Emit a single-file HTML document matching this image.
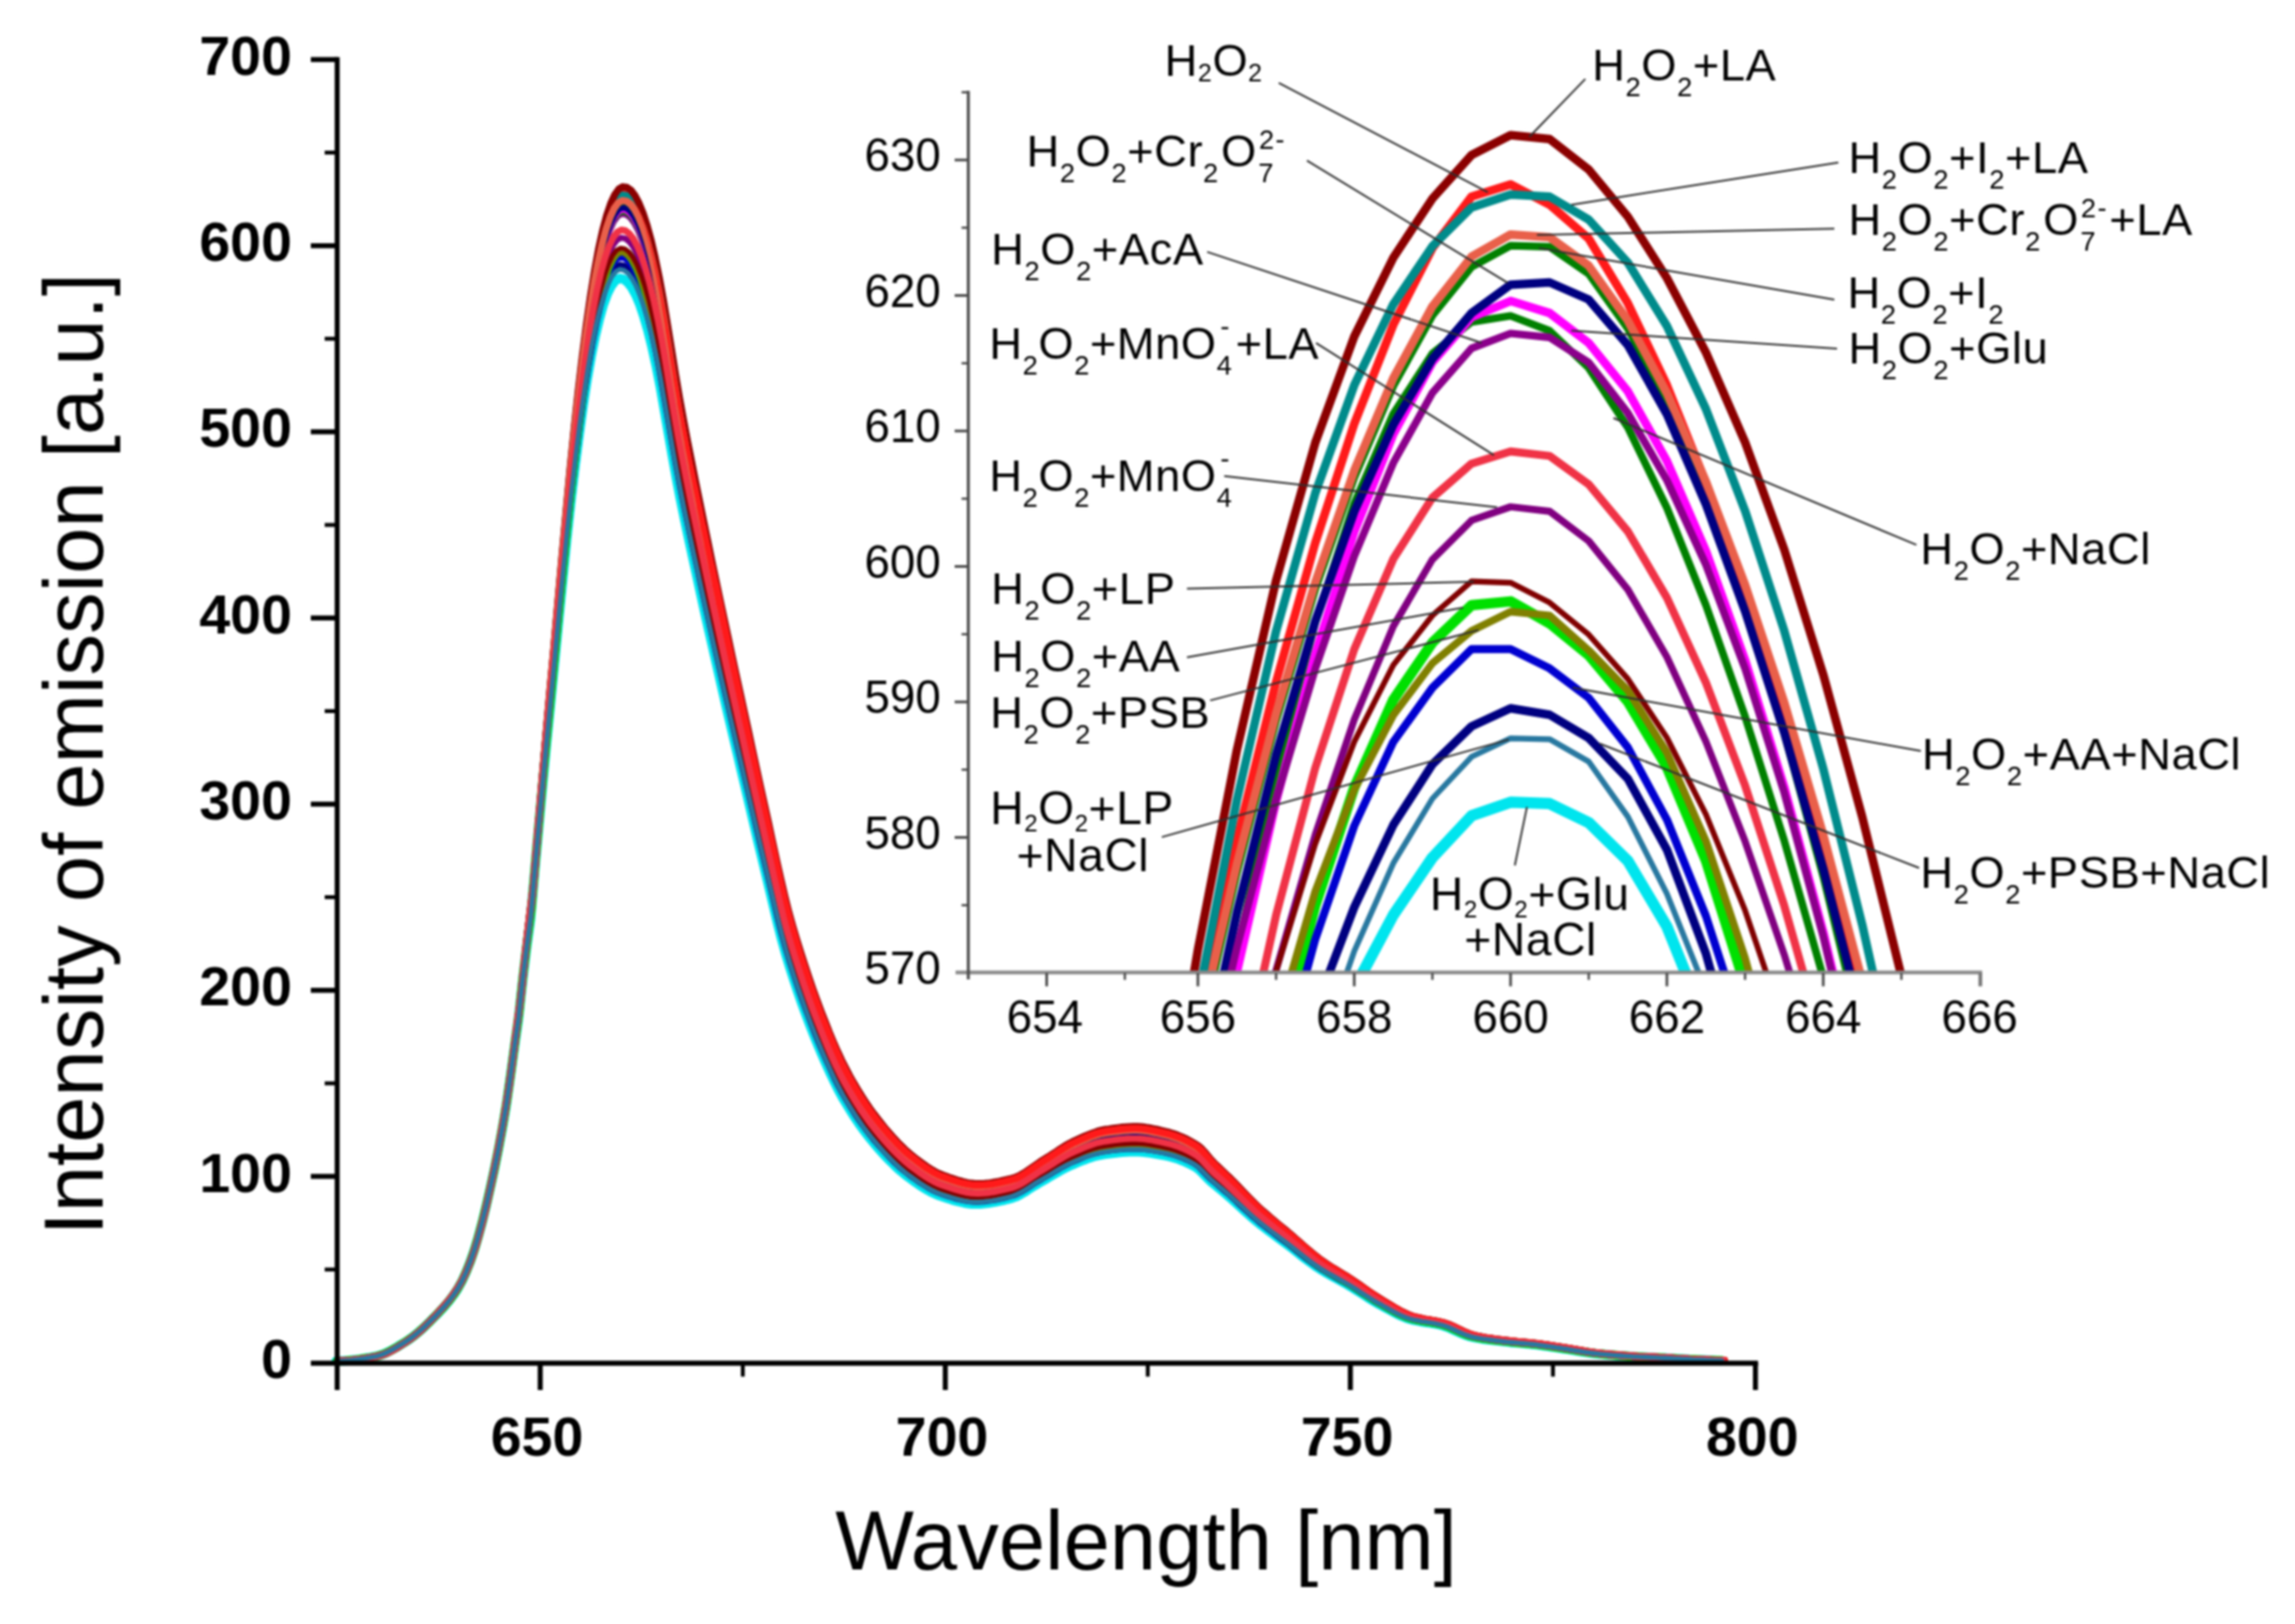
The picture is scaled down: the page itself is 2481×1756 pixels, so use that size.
<!DOCTYPE html>
<html lang="en"><head><meta charset="utf-8"><title>Emission spectra</title>
<style>html,body{margin:0;padding:0;background:#fff}body{width:2481px;height:1756px;overflow:hidden}svg{display:block;filter:blur(0.9px)}text{font-family:"Liberation Sans",Arial,Helvetica,sans-serif;fill:#000}.tk{font-weight:bold;font-size:60px;text-anchor:middle}.tky{font-weight:bold;font-size:60px;text-anchor:end}.ax{font-size:90px}.it{font-size:49.5px}.lb{font-size:49px;letter-spacing:0.6px}.lb2{font-size:50px}.ld{stroke:#303030;stroke-width:2;fill:none}</style></head><body>
<svg width="2481" height="1756" viewBox="0 0 2481 1756">
<rect width="2481" height="1756" fill="#fff"/>
<defs><clipPath id="ic"><rect x="1048" y="90" width="1100" height="962"/></clipPath></defs>
<g fill="none" stroke-width="7.6" stroke-linejoin="round" stroke-linecap="round">
<polyline stroke="#00e5ee" stroke-width="10.1" points="363.3,1471.7 367.7,1471.6 372.1,1471.4 376.5,1471.1 380.8,1470.6 385.2,1470.1 389.6,1469.5 394,1468.8 398.4,1468.1 402.7,1467.3 407.1,1466.5 411.5,1465.2 415.9,1463.5 420.3,1461.4 424.6,1459.1 429,1456.6 433.4,1453.9 437.8,1451.2 442.2,1448.4 446.5,1445.2 450.9,1441.7 455.3,1437.9 459.7,1433.9 464.1,1429.7 468.4,1425.3 472.8,1420.9 477.2,1416.3 481.6,1411.4 485.9,1406.2 490.3,1400.3 494.7,1393.8 499.1,1385.9 503.5,1376.4 507.8,1365.7 512.2,1353.2 516.6,1338.6 521,1322.6 525.4,1304.8 529.7,1285.8 534.1,1265.8 538.5,1244.4 542.9,1221.1 547.3,1195.3 551.6,1165.3 556,1133.3 560.4,1102.5 564.8,1062 569.1,1026.4 573.5,994.4 577.9,944.1 582.3,895.5 586.7,848.1 591,802.9 595.4,758.9 599.8,714 604.2,668.5 608.6,624.4 612.9,581.3 617.3,541.2 621.7,504.5 626.1,470.2 630.5,438.3 634.8,410.1 639.2,385.1 643.6,363.3 648,344.8 652.3,329.5 656.7,317.5 661.1,308.8 665.5,303.2 669.9,301 674.2,301.9 678.6,305.3 683,311 687.4,319.1 691.8,329.6 696.1,342.5 700.5,357.7 704.9,375.3 709.3,395.3 713.7,417.7 718,442.4 722.4,467.6 726.8,492.9 731.2,517.1 735.5,539.6 739.9,561.1 744.3,581.8 748.7,602 753.1,622 757.4,641.9 761.8,661.8 766.2,681.4 770.6,700.7 775,719.9 779.3,739 783.7,758 788.1,776.8 792.5,795.5 796.9,814 801.2,832.6 805.6,851.2 810,869.9 814.4,888.5 818.7,907 823.1,925.4 827.5,943.6 831.9,962.1 836.3,980.6 840.6,998.7 845,1015.9 849.4,1031.6 853.8,1046.1 858.2,1059.8 862.5,1072.7 866.9,1085.2 871.3,1097.2 875.7,1108.9 880.1,1120.1 884.4,1130.7 888.8,1141 893.2,1151 897.6,1160.7 902,1169.9 906.3,1178.6 910.7,1186.6 915.1,1194 919.5,1201.2 923.8,1208 928.2,1214.5 932.6,1220.7 937,1226.5 941.4,1232.1 945.7,1237.3 950.1,1242.4 954.5,1247.3 958.9,1252 963.3,1256.5 967.6,1260.7 972,1264.8 976.4,1268.5 980.8,1272 985.2,1275.3 989.5,1278.4 993.9,1281.4 998.3,1284.2 1002.7,1286.9 1007,1289.2 1011.4,1291.3 1015.8,1293 1020.2,1294.5 1024.6,1295.9 1028.9,1297.3 1033.3,1298.6 1037.7,1299.7 1042.1,1300.7 1046.5,1301.4 1050.8,1301.9 1055.2,1302 1059.6,1301.9 1064,1301.5 1068.4,1301 1072.7,1300.3 1077.1,1299.5 1081.5,1298.6 1085.9,1297.7 1090.2,1296.7 1094.6,1295.4 1099,1293.7 1103.4,1291.4 1107.8,1288.9 1112.1,1286.1 1116.5,1283.3 1120.9,1280.6 1125.3,1278 1129.7,1275.6 1134,1273 1138.4,1270.4 1142.8,1267.8 1147.2,1265.3 1151.6,1263 1155.9,1260.9 1160.3,1259 1164.7,1257.1 1169.1,1255.4 1173.4,1253.7 1177.8,1252.1 1182.2,1250.7 1186.6,1249.6 1191,1248.7 1195.3,1248.1 1199.7,1247.5 1204.1,1246.9 1208.5,1246.4 1212.9,1246 1217.2,1245.7 1221.6,1245.5 1226,1245.3 1230.4,1245.4 1234.8,1245.7 1239.1,1246.2 1243.5,1246.7 1247.9,1247.4 1252.3,1248.2 1256.6,1249 1261,1249.8 1265.4,1250.8 1269.8,1252.1 1274.2,1253.5 1278.5,1255.2 1282.9,1257.1 1287.3,1259.2 1291.7,1261.5 1296.1,1264.7 1300.4,1269 1304.8,1273.6 1309.2,1277.8 1313.6,1281.5 1318,1285.1 1322.3,1288.7 1326.7,1292.4 1331.1,1296.3 1335.5,1300.3 1339.9,1304.3 1344.2,1308.3 1348.6,1312.3 1353,1316.1 1357.4,1319.8 1361.7,1323.4 1366.1,1326.8 1370.5,1330.1 1374.9,1333.4 1379.3,1336.7 1383.6,1339.9 1388,1343.1 1392.4,1346.4 1396.8,1349.8 1401.2,1353.3 1405.5,1356.7 1409.9,1360.2 1414.3,1363.5 1418.7,1366.7 1423.1,1369.8 1427.4,1372.6 1431.8,1375.3 1436.2,1377.8 1440.6,1380.3 1444.9,1382.7 1449.3,1385.1 1453.7,1387.5 1458.1,1390.1 1462.5,1392.7 1466.8,1395.5 1471.2,1398.3 1475.6,1401.1 1480,1403.9 1484.4,1406.6 1488.7,1409.2 1493.1,1411.6 1497.5,1414 1501.9,1416.4 1506.3,1418.8 1510.6,1421.1 1515,1423.1 1519.4,1424.9 1523.8,1426.4 1528.1,1427.5 1532.5,1428.4 1536.9,1429.2 1541.3,1429.9 1545.7,1430.5 1550,1431.3 1554.4,1432.1 1558.8,1433.2 1563.2,1434.6 1567.6,1436.4 1571.9,1438.4 1576.3,1440.4 1580.7,1442.3 1585.1,1444 1589.5,1445.4 1593.8,1446.3 1598.2,1447.1 1602.6,1447.9 1607,1448.5 1611.3,1449.1 1615.7,1449.6 1620.1,1450.1 1624.5,1450.6 1628.9,1451.1 1633.2,1451.6 1637.6,1452 1642,1452.3 1646.4,1452.7 1650.8,1453.1 1655.1,1453.6 1659.5,1454 1663.9,1454.6 1668.3,1455.2 1672.7,1455.8 1677,1456.4 1681.4,1457 1685.8,1457.7 1690.2,1458.4 1694.5,1459 1698.9,1459.7 1703.3,1460.5 1707.7,1461.2 1712.1,1461.9 1716.4,1462.6 1720.8,1463.2 1725.2,1463.7 1729.6,1464.1 1734,1464.6 1738.3,1464.9 1742.7,1465.3 1747.1,1465.7 1751.5,1466 1755.9,1466.3 1760.2,1466.6 1764.6,1466.8 1769,1467.1 1773.4,1467.3 1777.8,1467.5 1782.1,1467.7 1786.5,1467.8 1790.9,1468 1795.3,1468.2 1799.6,1468.4 1804,1468.7 1808.4,1468.9 1812.8,1469.1 1817.2,1469.4 1821.5,1469.6 1825.9,1469.9 1830.3,1470.1 1834.7,1470.3 1839.1,1470.4 1843.4,1470.6 1847.8,1470.8 1852.2,1470.9 1856.6,1471 1861,1471.2"/>
<polyline stroke="#000080" stroke-width="7.6" points="363.8,1471.7 368.2,1471.6 372.6,1471.4 377,1471 381.3,1470.6 385.7,1470.1 390.1,1469.5 394.5,1468.8 398.9,1468.1 403.2,1467.3 407.6,1466.4 412,1465.1 416.4,1463.4 420.8,1461.3 425.1,1458.9 429.5,1456.4 433.9,1453.7 438.3,1451 442.6,1448.1 447,1444.8 451.4,1441.3 455.8,1437.5 460.2,1433.4 464.5,1429.2 468.9,1424.7 473.3,1420.2 477.7,1415.6 482.1,1410.7 486.4,1405.4 490.8,1399.5 495.2,1392.8 499.6,1384.9 504,1375.3 508.3,1364.4 512.7,1351.8 517.1,1337 521.5,1320.7 525.8,1302.7 530.2,1283.5 534.6,1263.3 539,1241.7 543.4,1218 547.7,1191.9 552.1,1161.6 556.5,1129.2 560.9,1098.1 565.3,1057.1 569.6,1021 574,988.6 578.4,937.8 582.8,888.6 587.2,840.6 591.5,794.8 595.9,750.3 600.3,704.9 604.7,658.8 609,614.2 613.4,570.6 617.8,530 622.2,492.9 626.6,458.1 630.9,425.9 635.3,397.3 639.7,372 644.1,350 648.5,331.2 652.8,315.8 657.2,303.6 661.6,294.8 666,289.2 670.4,286.9 674.7,287.8 679.1,291.1 683.5,296.8 687.9,304.9 692.2,315.5 696.6,328.4 701,343.8 705.4,361.6 709.8,381.8 714.1,404.3 718.5,429.3 722.9,454.8 727.3,480.3 731.7,504.8 736,527.5 740.4,549.2 744.8,570.1 749.2,590.6 753.6,610.7 757.9,630.9 762.3,651 766.7,670.8 771.1,690.3 775.4,709.7 779.8,729 784.2,748.2 788.6,767.2 793,786.1 797.3,804.9 801.7,823.7 806.1,842.5 810.5,861.4 814.9,880.2 819.2,899 823.6,917.6 828,936.1 832.4,954.7 836.8,973.5 841.1,991.9 845.5,1009.2 849.9,1025.2 854.3,1039.9 858.7,1053.6 863,1066.7 867.4,1079.4 871.8,1091.6 876.2,1103.4 880.5,1114.7 884.9,1125.5 889.3,1135.9 893.7,1146 898.1,1155.8 902.4,1165.2 906.8,1174 911.2,1182.1 915.6,1189.6 920,1196.9 924.3,1203.8 928.7,1210.3 933.1,1216.6 937.5,1222.5 941.9,1228.2 946.2,1233.5 950.6,1238.6 955,1243.5 959.4,1248.3 963.7,1252.8 968.1,1257.2 972.5,1261.3 976.9,1265.1 981.3,1268.6 985.6,1271.9 990,1275 994.4,1278.1 998.8,1280.9 1003.2,1283.6 1007.5,1286 1011.9,1288.1 1016.3,1289.8 1020.7,1291.3 1025.1,1292.8 1029.4,1294.2 1033.8,1295.5 1038.2,1296.6 1042.6,1297.6 1046.9,1298.3 1051.3,1298.7 1055.7,1298.9 1060.1,1298.7 1064.5,1298.4 1068.8,1297.8 1073.2,1297.2 1077.6,1296.4 1082,1295.5 1086.4,1294.5 1090.7,1293.4 1095.1,1292.2 1099.5,1290.4 1103.9,1288.2 1108.3,1285.6 1112.6,1282.8 1117,1279.9 1121.4,1277.1 1125.8,1274.6 1130.1,1272 1134.5,1269.4 1138.9,1266.8 1143.3,1264.2 1147.7,1261.6 1152,1259.3 1156.4,1257.1 1160.8,1255.2 1165.2,1253.4 1169.6,1251.5 1173.9,1249.8 1178.3,1248.2 1182.7,1246.8 1187.1,1245.7 1191.5,1244.8 1195.8,1244.2 1200.2,1243.6 1204.6,1243 1209,1242.5 1213.3,1242.1 1217.7,1241.8 1222.1,1241.6 1226.5,1241.5 1230.9,1241.6 1235.2,1241.9 1239.6,1242.4 1244,1243 1248.4,1243.7 1252.8,1244.5 1257.1,1245.3 1261.5,1246.2 1265.9,1247.3 1270.3,1248.6 1274.7,1250.1 1279,1251.8 1283.4,1253.7 1287.8,1255.9 1292.2,1258.2 1296.6,1261.6 1300.9,1266 1305.3,1270.7 1309.7,1274.9 1314.1,1278.7 1318.4,1282.3 1322.8,1286 1327.2,1289.8 1331.6,1293.8 1336,1297.8 1340.3,1301.9 1344.7,1306 1349.1,1310 1353.5,1314 1357.9,1317.7 1362.2,1321.4 1366.6,1324.8 1371,1328.2 1375.4,1331.6 1379.8,1334.9 1384.1,1338.2 1388.5,1341.5 1392.9,1344.8 1397.3,1348.3 1401.6,1351.8 1406,1355.3 1410.4,1358.8 1414.8,1362.2 1419.2,1365.4 1423.5,1368.5 1427.9,1371.4 1432.3,1374.1 1436.7,1376.7 1441.1,1379.2 1445.4,1381.6 1449.8,1384.1 1454.2,1386.5 1458.6,1389.1 1463,1391.8 1467.3,1394.6 1471.7,1397.5 1476.1,1400.3 1480.5,1403.2 1484.8,1405.9 1489.2,1408.5 1493.6,1410.9 1498,1413.4 1502.4,1415.9 1506.7,1418.3 1511.1,1420.5 1515.5,1422.6 1519.9,1424.4 1524.3,1425.9 1528.6,1427 1533,1428 1537.4,1428.7 1541.8,1429.4 1546.2,1430.1 1550.5,1430.9 1554.9,1431.8 1559.3,1432.8 1563.7,1434.3 1568,1436.1 1572.4,1438 1576.8,1440.1 1581.2,1442 1585.6,1443.8 1589.9,1445.1 1594.3,1446.1 1598.7,1446.9 1603.1,1447.6 1607.5,1448.3 1611.8,1448.9 1616.2,1449.4 1620.6,1449.9 1625,1450.4 1629.4,1450.9 1633.7,1451.4 1638.1,1451.8 1642.5,1452.2 1646.9,1452.5 1651.2,1453 1655.6,1453.4 1660,1453.9 1664.4,1454.4 1668.8,1455 1673.1,1455.6 1677.5,1456.3 1681.9,1456.9 1686.3,1457.6 1690.7,1458.2 1695,1458.9 1699.4,1459.6 1703.8,1460.4 1708.2,1461.1 1712.6,1461.8 1716.9,1462.5 1721.3,1463.1 1725.7,1463.6 1730.1,1464.1 1734.5,1464.5 1738.8,1464.9 1743.2,1465.3 1747.6,1465.6 1752,1465.9 1756.3,1466.2 1760.7,1466.5 1765.1,1466.8 1769.5,1467 1773.9,1467.2 1778.2,1467.4 1782.6,1467.6 1787,1467.8 1791.4,1468 1795.8,1468.2 1800.1,1468.4 1804.5,1468.6 1808.9,1468.9 1813.3,1469.1 1817.7,1469.4 1822,1469.6 1826.4,1469.8 1830.8,1470.1 1835.2,1470.2 1839.5,1470.4 1843.9,1470.6 1848.3,1470.7 1852.7,1470.9 1857.1,1471 1861.4,1471.1"/>
<polyline stroke="#0000d0" stroke-width="7.2" points="364.1,1471.7 368.5,1471.6 372.9,1471.4 377.3,1471 381.7,1470.6 386,1470 390.4,1469.4 394.8,1468.8 399.2,1468 403.6,1467.2 407.9,1466.3 412.3,1465 416.7,1463.3 421.1,1461.2 425.4,1458.8 429.8,1456.3 434.2,1453.5 438.6,1450.8 443,1447.9 447.3,1444.6 451.7,1441 456.1,1437.2 460.5,1433.1 464.9,1428.8 469.2,1424.4 473.6,1419.8 478,1415.1 482.4,1410.2 486.8,1404.8 491.1,1398.9 495.5,1392.2 499.9,1384.2 504.3,1374.5 508.6,1363.6 513,1350.8 517.4,1335.9 521.8,1319.6 526.2,1301.4 530.5,1282.1 534.9,1261.7 539.3,1239.9 543.7,1216.1 548.1,1189.8 552.4,1159.2 556.8,1126.6 561.2,1095.2 565.6,1053.9 570,1017.6 574.3,984.9 578.7,933.7 583.1,884.1 587.5,835.8 591.8,789.6 596.2,744.8 600.6,699 605,652.6 609.4,607.7 613.7,563.7 618.1,522.8 622.5,485.4 626.9,450.4 631.3,417.9 635.6,389.1 640,363.6 644.4,341.4 648.8,322.5 653.2,307 657.5,294.7 661.9,285.8 666.3,280.1 670.7,277.8 675,278.7 679.4,282 683.8,287.7 688.2,295.8 692.6,306.4 696.9,319.4 701.3,334.9 705.7,352.7 710.1,373 714.5,395.8 718.8,420.9 723.2,446.5 727.6,472.2 732,496.8 736.4,519.7 740.7,541.6 745.1,562.6 749.5,583.2 753.9,603.5 758.2,623.8 762.6,644 767,663.9 771.4,683.6 775.8,703.2 780.1,722.6 784.5,741.9 788.9,761.1 793.3,780.1 797.7,799.1 802,818 806.4,837 810.8,856 815.2,874.9 819.6,893.9 823.9,912.6 828.3,931.2 832.7,950 837.1,968.9 841.5,987.4 845.8,1005 850.2,1021 854.6,1035.8 859,1049.7 863.3,1062.9 867.7,1075.6 872.1,1088 876.5,1099.8 880.9,1111.2 885.2,1122.1 889.6,1132.6 894,1142.8 898.4,1152.7 902.8,1162.2 907.1,1171 911.5,1179.2 915.9,1186.8 920.3,1194.1 924.7,1201 929,1207.7 933.4,1214 937.8,1220 942.2,1225.6 946.5,1231 950.9,1236.1 955.3,1241.1 959.7,1245.9 964.1,1250.5 968.4,1254.9 972.8,1259 977.2,1262.8 981.6,1266.4 986,1269.7 990.3,1272.9 994.7,1275.9 999.1,1278.8 1003.5,1281.5 1007.9,1283.9 1012.2,1286 1016.6,1287.8 1021,1289.2 1025.4,1290.7 1029.7,1292.1 1034.1,1293.4 1038.5,1294.6 1042.9,1295.6 1047.3,1296.3 1051.6,1296.7 1056,1296.9 1060.4,1296.7 1064.8,1296.3 1069.2,1295.8 1073.5,1295.1 1077.9,1294.3 1082.3,1293.4 1086.7,1292.4 1091.1,1291.4 1095.4,1290.2 1099.8,1288.3 1104.2,1286 1108.6,1283.4 1112.9,1280.6 1117.3,1277.7 1121.7,1274.9 1126.1,1272.3 1130.5,1269.8 1134.8,1267.1 1139.2,1264.5 1143.6,1261.8 1148,1259.3 1152.4,1256.9 1156.7,1254.7 1161.1,1252.8 1165.5,1250.9 1169.9,1249.1 1174.3,1247.4 1178.6,1245.8 1183,1244.4 1187.4,1243.2 1191.8,1242.3 1196.1,1241.7 1200.5,1241.1 1204.9,1240.5 1209.3,1240 1213.7,1239.6 1218,1239.3 1222.4,1239.1 1226.8,1239 1231.2,1239.1 1235.6,1239.4 1239.9,1239.9 1244.3,1240.6 1248.7,1241.3 1253.1,1242.1 1257.5,1243 1261.8,1243.9 1266.2,1245 1270.6,1246.3 1275,1247.8 1279.4,1249.6 1283.7,1251.5 1288.1,1253.7 1292.5,1256.2 1296.9,1259.5 1301.2,1264 1305.6,1268.7 1310,1273 1314.4,1276.8 1318.8,1280.6 1323.1,1284.3 1327.5,1288.1 1331.9,1292.2 1336.3,1296.2 1340.7,1300.4 1345,1304.5 1349.4,1308.6 1353.8,1312.6 1358.2,1316.4 1362.6,1320.1 1366.9,1323.6 1371.3,1327 1375.7,1330.4 1380.1,1333.7 1384.4,1337 1388.8,1340.4 1393.2,1343.8 1397.6,1347.3 1402,1350.8 1406.3,1354.3 1410.7,1357.9 1415.1,1361.3 1419.5,1364.6 1423.9,1367.7 1428.2,1370.7 1432.6,1373.4 1437,1376 1441.4,1378.5 1445.8,1380.9 1450.1,1383.4 1454.5,1385.9 1458.9,1388.5 1463.3,1391.2 1467.6,1394.1 1472,1397 1476.4,1399.8 1480.8,1402.7 1485.2,1405.4 1489.5,1408 1493.9,1410.5 1498.3,1413 1502.7,1415.5 1507.1,1417.9 1511.4,1420.2 1515.8,1422.3 1520.2,1424.1 1524.6,1425.6 1529,1426.8 1533.3,1427.7 1537.7,1428.5 1542.1,1429.2 1546.5,1429.9 1550.8,1430.6 1555.2,1431.5 1559.6,1432.6 1564,1434 1568.4,1435.8 1572.7,1437.8 1577.1,1439.9 1581.5,1441.8 1585.9,1443.6 1590.3,1445 1594.6,1445.9 1599,1446.7 1603.4,1447.5 1607.8,1448.1 1612.2,1448.7 1616.5,1449.3 1620.9,1449.8 1625.3,1450.3 1629.7,1450.8 1634,1451.2 1638.4,1451.7 1642.8,1452 1647.2,1452.4 1651.6,1452.8 1655.9,1453.3 1660.3,1453.8 1664.7,1454.3 1669.1,1454.9 1673.5,1455.5 1677.8,1456.2 1682.2,1456.8 1686.6,1457.5 1691,1458.2 1695.4,1458.8 1699.7,1459.5 1704.1,1460.3 1708.5,1461.1 1712.9,1461.8 1717.3,1462.5 1721.6,1463.1 1726,1463.6 1730.4,1464 1734.8,1464.4 1739.1,1464.8 1743.5,1465.2 1747.9,1465.6 1752.3,1465.9 1756.7,1466.2 1761,1466.5 1765.4,1466.7 1769.8,1467 1774.2,1467.2 1778.6,1467.4 1782.9,1467.6 1787.3,1467.8 1791.7,1468 1796.1,1468.2 1800.5,1468.4 1804.8,1468.6 1809.2,1468.9 1813.6,1469.1 1818,1469.4 1822.3,1469.6 1826.7,1469.8 1831.1,1470 1835.5,1470.2 1839.9,1470.4 1844.2,1470.6 1848.6,1470.7 1853,1470.9 1857.4,1471 1861.8,1471.1"/>
<polyline stroke="#00e000" stroke-width="9.3" points="364.4,1471.7 368.7,1471.6 373.1,1471.4 377.5,1471 381.9,1470.6 386.3,1470 390.6,1469.4 395,1468.7 399.4,1468 403.8,1467.2 408.2,1466.3 412.5,1465 416.9,1463.2 421.3,1461.1 425.7,1458.7 430.1,1456.2 434.4,1453.4 438.8,1450.7 443.2,1447.7 447.6,1444.5 452,1440.9 456.3,1437 460.7,1432.9 465.1,1428.6 469.5,1424.1 473.8,1419.5 478.2,1414.8 482.6,1409.9 487,1404.5 491.4,1398.5 495.7,1391.7 500.1,1383.7 504.5,1374 508.9,1363 513.3,1350.1 517.6,1335.2 522,1318.7 526.4,1300.5 530.8,1281 535.2,1260.6 539.5,1238.6 543.9,1214.7 548.3,1188.2 552.7,1157.5 557,1124.7 561.4,1093.1 565.8,1051.6 570.2,1015 574.6,982.2 578.9,930.7 583.3,880.8 587.7,832.2 592.1,785.8 596.5,740.7 600.8,694.7 605.2,648.1 609.6,602.9 614,558.6 618.4,517.5 622.7,479.9 627.1,444.7 631.5,412 635.9,383.1 640.2,357.4 644.6,335.1 649,316.1 653.4,300.5 657.8,288.2 662.1,279.2 666.5,273.5 670.9,271.2 675.3,272 679.7,275.3 684,281 688.4,289.2 692.8,299.8 697.2,312.8 701.6,328.3 705.9,346.3 710.3,366.7 714.7,389.5 719.1,414.7 723.4,440.4 727.8,466.3 732.2,491 736.6,514 741,536 745.3,557.1 749.7,577.8 754.1,598.2 758.5,618.6 762.9,638.9 767.2,658.9 771.6,678.7 776,698.4 780.4,717.9 784.8,737.3 789.1,756.6 793.5,775.7 797.9,794.8 802.3,813.8 806.6,832.9 811,852 815.4,871.1 819.8,890.1 824.2,908.9 828.5,927.6 832.9,946.6 837.3,965.6 841.7,984.2 846.1,1001.8 850.4,1018 854.8,1032.9 859.2,1046.8 863.6,1060.1 868,1072.9 872.3,1085.3 876.7,1097.2 881.1,1108.7 885.5,1119.7 889.9,1130.2 894.2,1140.5 898.6,1150.4 903,1159.9 907.4,1168.8 911.7,1177 916.1,1184.7 920.5,1192 924.9,1199 929.3,1205.7 933.6,1212.1 938,1218.1 942.4,1223.8 946.8,1229.1 951.2,1234.3 955.5,1239.3 959.9,1244.2 964.3,1248.8 968.7,1253.2 973.1,1257.3 977.4,1261.2 981.8,1264.8 986.2,1268.1 990.6,1271.3 994.9,1274.4 999.3,1277.3 1003.7,1280 1008.1,1282.4 1012.5,1284.5 1016.8,1286.3 1021.2,1287.7 1025.6,1289.2 1030,1290.6 1034.4,1291.9 1038.7,1293.1 1043.1,1294.1 1047.5,1294.8 1051.9,1295.2 1056.3,1295.4 1060.6,1295.2 1065,1294.8 1069.4,1294.3 1073.8,1293.6 1078.1,1292.8 1082.5,1291.9 1086.9,1290.9 1091.3,1289.9 1095.7,1288.6 1100,1286.8 1104.4,1284.5 1108.8,1281.9 1113.2,1279 1117.6,1276.1 1121.9,1273.3 1126.3,1270.7 1130.7,1268.1 1135.1,1265.5 1139.5,1262.8 1143.8,1260.1 1148.2,1257.5 1152.6,1255.1 1157,1252.9 1161.3,1251 1165.7,1249.1 1170.1,1247.3 1174.5,1245.5 1178.9,1243.9 1183.2,1242.5 1187.6,1241.4 1192,1240.5 1196.4,1239.8 1200.8,1239.2 1205.1,1238.6 1209.5,1238.1 1213.9,1237.7 1218.3,1237.4 1222.7,1237.2 1227,1237.2 1231.4,1237.3 1235.8,1237.6 1240.2,1238.2 1244.5,1238.8 1248.9,1239.6 1253.3,1240.4 1257.7,1241.3 1262.1,1242.2 1266.4,1243.3 1270.8,1244.7 1275.2,1246.2 1279.6,1248 1284,1250 1288.3,1252.2 1292.7,1254.6 1297.1,1258 1301.5,1262.5 1305.9,1267.3 1310.2,1271.6 1314.6,1275.5 1319,1279.3 1323.4,1283 1327.8,1286.9 1332.1,1291 1336.5,1295.1 1340.9,1299.3 1345.3,1303.4 1349.6,1307.6 1354,1311.6 1358.4,1315.4 1362.8,1319.1 1367.2,1322.7 1371.5,1326.1 1375.9,1329.5 1380.3,1332.9 1384.7,1336.2 1389.1,1339.6 1393.4,1343 1397.8,1346.5 1402.2,1350.1 1406.6,1353.7 1411,1357.2 1415.3,1360.7 1419.7,1364 1424.1,1367.1 1428.5,1370.1 1432.8,1372.8 1437.2,1375.4 1441.6,1378 1446,1380.4 1450.4,1382.9 1454.7,1385.4 1459.1,1388.1 1463.5,1390.8 1467.9,1393.7 1472.3,1396.6 1476.6,1399.5 1481,1402.3 1485.4,1405.1 1489.8,1407.7 1494.2,1410.2 1498.5,1412.7 1502.9,1415.2 1507.3,1417.6 1511.7,1419.9 1516,1422 1520.4,1423.9 1524.8,1425.4 1529.2,1426.5 1533.6,1427.5 1537.9,1428.3 1542.3,1429 1546.7,1429.7 1551.1,1430.4 1555.5,1431.3 1559.8,1432.4 1564.2,1433.9 1568.6,1435.7 1573,1437.7 1577.4,1439.7 1581.7,1441.7 1586.1,1443.5 1590.5,1444.8 1594.9,1445.8 1599.2,1446.6 1603.6,1447.4 1608,1448 1612.4,1448.6 1616.8,1449.2 1621.1,1449.7 1625.5,1450.2 1629.9,1450.7 1634.3,1451.2 1638.7,1451.6 1643,1452 1647.4,1452.4 1651.8,1452.8 1656.2,1453.2 1660.6,1453.7 1664.9,1454.2 1669.3,1454.8 1673.7,1455.5 1678.1,1456.1 1682.4,1456.8 1686.8,1457.4 1691.2,1458.1 1695.6,1458.8 1700,1459.5 1704.3,1460.3 1708.7,1461 1713.1,1461.7 1717.5,1462.4 1721.9,1463 1726.2,1463.5 1730.6,1464 1735,1464.4 1739.4,1464.8 1743.8,1465.2 1748.1,1465.5 1752.5,1465.9 1756.9,1466.2 1761.3,1466.5 1765.7,1466.7 1770,1467 1774.4,1467.2 1778.8,1467.4 1783.2,1467.6 1787.5,1467.8 1791.9,1467.9 1796.3,1468.1 1800.7,1468.4 1805.1,1468.6 1809.4,1468.8 1813.8,1469.1 1818.2,1469.3 1822.6,1469.6 1827,1469.8 1831.3,1470 1835.7,1470.2 1840.1,1470.4 1844.5,1470.6 1848.9,1470.7 1853.2,1470.9 1857.6,1471 1862,1471.1"/>
<polyline stroke="#808000" stroke-width="6.8" points="364.3,1471.7 368.7,1471.6 373.1,1471.4 377.5,1471 381.8,1470.6 386.2,1470 390.6,1469.4 395,1468.7 399.4,1468 403.7,1467.2 408.1,1466.3 412.5,1465 416.9,1463.2 421.3,1461.1 425.6,1458.8 430,1456.2 434.4,1453.5 438.8,1450.7 443.2,1447.8 447.5,1444.5 451.9,1440.9 456.3,1437 460.7,1432.9 465,1428.6 469.4,1424.2 473.8,1419.6 478.2,1414.9 482.6,1409.9 486.9,1404.5 491.3,1398.5 495.7,1391.8 500.1,1383.8 504.5,1374.1 508.8,1363.1 513.2,1350.3 517.6,1335.3 522,1318.9 526.4,1300.7 530.7,1281.2 535.1,1260.8 539.5,1238.8 543.9,1214.9 548.2,1188.5 552.6,1157.8 557,1125 561.4,1093.5 565.8,1052 570.1,1015.5 574.5,982.7 578.9,931.2 583.3,881.4 587.7,832.9 592,786.5 596.4,741.5 600.8,695.5 605.2,648.9 609.6,603.7 613.9,559.5 618.3,518.5 622.7,480.9 627.1,445.7 631.4,413.1 635.8,384.2 640.2,358.6 644.6,336.3 649,317.3 653.3,301.7 657.7,289.4 662.1,280.4 666.5,274.7 670.9,272.4 675.2,273.2 679.6,276.5 684,282.2 688.4,290.4 692.8,301 697.1,314 701.5,329.5 705.9,347.4 710.3,367.8 714.6,390.6 719,415.9 723.4,441.5 727.8,467.3 732.2,492.1 736.5,515 740.9,537 745.3,558.1 749.7,578.8 754.1,599.2 758.4,619.5 762.8,639.8 767.2,659.9 771.6,679.6 776,699.3 780.3,718.8 784.7,738.2 789.1,757.4 793.5,776.5 797.8,795.5 802.2,814.5 806.6,833.6 811,852.7 815.4,871.8 819.7,890.8 824.1,909.6 828.5,928.3 832.9,947.2 837.3,966.2 841.6,984.8 846,1002.4 850.4,1018.5 854.8,1033.4 859.2,1047.3 863.5,1060.6 867.9,1073.4 872.3,1085.8 876.7,1097.7 881.1,1109.2 885.4,1120.1 889.8,1130.6 894.2,1140.9 898.6,1150.9 902.9,1160.3 907.3,1169.2 911.7,1177.4 916.1,1185.1 920.5,1192.4 924.8,1199.4 929.2,1206.1 933.6,1212.4 938,1218.4 942.4,1224.1 946.7,1229.5 951.1,1234.7 955.5,1239.7 959.9,1244.5 964.3,1249.1 968.6,1253.5 973,1257.6 977.4,1261.5 981.8,1265.1 986.1,1268.4 990.5,1271.6 994.9,1274.7 999.3,1277.6 1003.7,1280.3 1008,1282.7 1012.4,1284.8 1016.8,1286.5 1021.2,1288 1025.6,1289.5 1029.9,1290.9 1034.3,1292.2 1038.7,1293.4 1043.1,1294.3 1047.5,1295.1 1051.8,1295.5 1056.2,1295.6 1060.6,1295.5 1065,1295.1 1069.3,1294.6 1073.7,1293.9 1078.1,1293.1 1082.5,1292.2 1086.9,1291.2 1091.2,1290.2 1095.6,1288.9 1100,1287.1 1104.4,1284.8 1108.8,1282.1 1113.1,1279.3 1117.5,1276.4 1121.9,1273.6 1126.3,1271 1130.7,1268.4 1135,1265.8 1139.4,1263.1 1143.8,1260.4 1148.2,1257.8 1152.5,1255.4 1156.9,1253.3 1161.3,1251.3 1165.7,1249.5 1170.1,1247.6 1174.4,1245.9 1178.8,1244.3 1183.2,1242.9 1187.6,1241.7 1192,1240.8 1196.3,1240.2 1200.7,1239.6 1205.1,1239 1209.5,1238.5 1213.9,1238.1 1218.2,1237.7 1222.6,1237.6 1227,1237.5 1231.4,1237.6 1235.7,1238 1240.1,1238.5 1244.5,1239.1 1248.9,1239.9 1253.3,1240.7 1257.6,1241.6 1262,1242.5 1266.4,1243.6 1270.8,1245 1275.2,1246.5 1279.5,1248.3 1283.9,1250.3 1288.3,1252.5 1292.7,1254.9 1297.1,1258.3 1301.4,1262.8 1305.8,1267.6 1310.2,1271.9 1314.6,1275.8 1319,1279.5 1323.3,1283.3 1327.7,1287.1 1332.1,1291.2 1336.5,1295.3 1340.8,1299.5 1345.2,1303.6 1349.6,1307.7 1354,1311.7 1358.4,1315.6 1362.7,1319.3 1367.1,1322.8 1371.5,1326.3 1375.9,1329.7 1380.3,1333 1384.6,1336.4 1389,1339.7 1393.4,1343.2 1397.8,1346.7 1402.2,1350.2 1406.5,1353.8 1410.9,1357.3 1415.3,1360.8 1419.7,1364.1 1424,1367.3 1428.4,1370.2 1432.8,1372.9 1437.2,1375.5 1441.6,1378.1 1445.9,1380.5 1450.3,1383 1454.7,1385.5 1459.1,1388.1 1463.5,1390.9 1467.8,1393.7 1472.2,1396.6 1476.6,1399.5 1481,1402.4 1485.4,1405.2 1489.7,1407.8 1494.1,1410.3 1498.5,1412.7 1502.9,1415.2 1507.2,1417.7 1511.6,1420 1516,1422.1 1520.4,1423.9 1524.8,1425.4 1529.1,1426.6 1533.5,1427.5 1537.9,1428.3 1542.3,1429 1546.7,1429.7 1551,1430.5 1555.4,1431.4 1559.8,1432.4 1564.2,1433.9 1568.6,1435.7 1572.9,1437.7 1577.3,1439.8 1581.7,1441.7 1586.1,1443.5 1590.4,1444.9 1594.8,1445.8 1599.2,1446.7 1603.6,1447.4 1608,1448 1612.3,1448.6 1616.7,1449.2 1621.1,1449.7 1625.5,1450.2 1629.9,1450.7 1634.2,1451.2 1638.6,1451.6 1643,1452 1647.4,1452.4 1651.8,1452.8 1656.1,1453.2 1660.5,1453.7 1664.9,1454.3 1669.3,1454.9 1673.6,1455.5 1678,1456.1 1682.4,1456.8 1686.8,1457.4 1691.2,1458.1 1695.5,1458.8 1699.9,1459.5 1704.3,1460.3 1708.7,1461 1713.1,1461.8 1717.4,1462.4 1721.8,1463 1726.2,1463.5 1730.6,1464 1735,1464.4 1739.3,1464.8 1743.7,1465.2 1748.1,1465.5 1752.5,1465.9 1756.9,1466.2 1761.2,1466.5 1765.6,1466.7 1770,1467 1774.4,1467.2 1778.7,1467.4 1783.1,1467.6 1787.5,1467.8 1791.9,1468 1796.3,1468.1 1800.6,1468.4 1805,1468.6 1809.4,1468.8 1813.8,1469.1 1818.2,1469.3 1822.5,1469.6 1826.9,1469.8 1831.3,1470 1835.7,1470.2 1840.1,1470.4 1844.4,1470.6 1848.8,1470.7 1853.2,1470.9 1857.6,1471 1861.9,1471.1"/>
<polyline stroke="#800080" stroke-width="6.4" points="364.9,1471.7 369.2,1471.6 373.6,1471.3 378,1471 382.4,1470.5 386.8,1470 391.1,1469.4 395.5,1468.7 399.9,1467.9 404.3,1467.1 408.7,1466.2 413,1464.9 417.4,1463.1 421.8,1461 426.2,1458.6 430.5,1456 434.9,1453.2 439.3,1450.4 443.7,1447.4 448.1,1444.1 452.4,1440.5 456.8,1436.6 461.2,1432.4 465.6,1428 470,1423.5 474.3,1418.9 478.7,1414.1 483.1,1409.1 487.5,1403.7 491.9,1397.6 496.2,1390.8 500.6,1382.6 505,1372.8 509.4,1361.7 513.7,1348.7 518.1,1333.5 522.5,1316.9 526.9,1298.5 531.3,1278.7 535.6,1258.1 540,1235.8 544.4,1211.6 548.8,1184.9 553.2,1153.8 557.5,1120.6 561.9,1088.6 566.3,1046.6 570.7,1009.7 575.1,976.5 579.4,924.3 583.8,873.9 588.2,824.7 592.6,777.8 596.9,732.1 601.3,685.6 605.7,638.4 610.1,592.6 614.5,547.9 618.8,506.3 623.2,468.3 627.6,432.6 632,399.6 636.4,370.3 640.7,344.4 645.1,321.8 649.5,302.6 653.9,286.7 658.3,274.3 662.6,265.2 667,259.5 671.4,257.1 675.8,257.8 680.1,261.1 684.5,266.8 688.9,275 693.3,285.7 697.7,298.8 702,314.4 706.4,332.5 710.8,353.1 715.2,376.1 719.6,401.6 723.9,427.6 728.3,453.7 732.7,478.7 737.1,501.9 741.5,524.1 745.8,545.5 750.2,566.3 754.6,587 759,607.6 763.3,628.1 767.7,648.3 772.1,668.3 776.5,688.2 780.9,707.9 785.2,727.6 789.6,747 794,766.4 798.4,785.6 802.8,804.9 807.1,824.2 811.5,843.5 815.9,862.8 820.3,882.1 824.7,901.1 829,920.1 833.4,939.2 837.8,958.5 842.2,977.3 846.6,995.2 850.9,1011.5 855.3,1026.6 859.7,1040.7 864.1,1054.1 868.4,1067.1 872.8,1079.7 877.2,1091.7 881.6,1103.4 886,1114.4 890.3,1125.1 894.7,1135.5 899.1,1145.6 903.5,1155.2 907.9,1164.2 912.2,1172.5 916.6,1180.3 921,1187.7 925.4,1194.8 929.8,1201.6 934.1,1208 938.5,1214.1 942.9,1219.8 947.3,1225.3 951.6,1230.5 956,1235.6 960.4,1240.5 964.8,1245.2 969.2,1249.6 973.5,1253.8 977.9,1257.7 982.3,1261.4 986.7,1264.7 991.1,1267.9 995.4,1271.1 999.8,1274 1004.2,1276.7 1008.6,1279.2 1013,1281.3 1017.3,1283.1 1021.7,1284.6 1026.1,1286.1 1030.5,1287.5 1034.8,1288.8 1039.2,1290 1043.6,1290.9 1048,1291.7 1052.4,1292.1 1056.7,1292.2 1061.1,1292.1 1065.5,1291.7 1069.9,1291.2 1074.3,1290.5 1078.6,1289.7 1083,1288.7 1087.4,1287.7 1091.8,1286.7 1096.2,1285.4 1100.5,1283.6 1104.9,1281.2 1109.3,1278.5 1113.7,1275.6 1118,1272.7 1122.4,1269.8 1126.8,1267.2 1131.2,1264.6 1135.6,1261.9 1139.9,1259.2 1144.3,1256.5 1148.7,1253.9 1153.1,1251.4 1157.5,1249.2 1161.8,1247.2 1166.2,1245.3 1170.6,1243.5 1175,1241.7 1179.4,1240.1 1183.7,1238.7 1188.1,1237.5 1192.5,1236.6 1196.9,1235.9 1201.2,1235.3 1205.6,1234.7 1210,1234.2 1214.4,1233.8 1218.8,1233.5 1223.1,1233.3 1227.5,1233.3 1231.9,1233.4 1236.3,1233.8 1240.7,1234.4 1245,1235.1 1249.4,1235.9 1253.8,1236.7 1258.2,1237.7 1262.6,1238.6 1266.9,1239.8 1271.3,1241.1 1275.7,1242.7 1280.1,1244.6 1284.5,1246.6 1288.8,1248.9 1293.2,1251.4 1297.6,1254.9 1302,1259.5 1306.3,1264.3 1310.7,1268.7 1315.1,1272.7 1319.5,1276.5 1323.9,1280.3 1328.2,1284.3 1332.6,1288.4 1337,1292.6 1341.4,1296.9 1345.8,1301.1 1350.1,1305.3 1354.5,1309.4 1358.9,1313.3 1363.3,1317.1 1367.7,1320.7 1372,1324.2 1376.4,1327.7 1380.8,1331.1 1385.2,1334.5 1389.5,1337.9 1393.9,1341.4 1398.3,1344.9 1402.7,1348.6 1407.1,1352.2 1411.4,1355.8 1415.8,1359.3 1420.2,1362.7 1424.6,1365.9 1429,1368.9 1433.3,1371.7 1437.7,1374.3 1442.1,1376.9 1446.5,1379.4 1450.9,1381.9 1455.2,1384.5 1459.6,1387.1 1464,1389.9 1468.4,1392.8 1472.7,1395.7 1477.1,1398.7 1481.5,1401.6 1485.9,1404.4 1490.3,1407 1494.6,1409.5 1499,1412.1 1503.4,1414.6 1507.8,1417.1 1512.2,1419.4 1516.5,1421.5 1520.9,1423.4 1525.3,1424.9 1529.7,1426.1 1534.1,1427 1538.4,1427.8 1542.8,1428.6 1547.2,1429.3 1551.6,1430 1555.9,1430.9 1560.3,1432 1564.7,1433.5 1569.1,1435.3 1573.5,1437.3 1577.8,1439.4 1582.2,1441.4 1586.6,1443.2 1591,1444.6 1595.4,1445.6 1599.7,1446.4 1604.1,1447.1 1608.5,1447.8 1612.9,1448.4 1617.3,1449 1621.6,1449.5 1626,1450 1630.4,1450.5 1634.8,1451 1639.1,1451.4 1643.5,1451.8 1647.9,1452.2 1652.3,1452.6 1656.7,1453 1661,1453.5 1665.4,1454.1 1669.8,1454.7 1674.2,1455.3 1678.6,1456 1682.9,1456.6 1687.3,1457.3 1691.7,1458 1696.1,1458.7 1700.5,1459.4 1704.8,1460.2 1709.2,1460.9 1713.6,1461.7 1718,1462.3 1722.4,1463 1726.7,1463.5 1731.1,1463.9 1735.5,1464.3 1739.9,1464.7 1744.2,1465.1 1748.6,1465.5 1753,1465.8 1757.4,1466.1 1761.8,1466.4 1766.1,1466.7 1770.5,1466.9 1774.9,1467.1 1779.3,1467.3 1783.7,1467.5 1788,1467.7 1792.4,1467.9 1796.8,1468.1 1801.2,1468.3 1805.6,1468.6 1809.9,1468.8 1814.3,1469.1 1818.7,1469.3 1823.1,1469.6 1827.4,1469.8 1831.8,1470 1836.2,1470.2 1840.6,1470.4 1845,1470.5 1849.3,1470.7 1853.7,1470.9 1858.1,1471 1862.5,1471.1"/>
<polyline stroke="#8b008b" stroke-width="6.8" points="365.8,1471.7 370.1,1471.5 374.5,1471.3 378.9,1470.9 383.3,1470.5 387.7,1469.9 392,1469.3 396.4,1468.6 400.8,1467.8 405.2,1467 409.6,1466.1 413.9,1464.7 418.3,1462.9 422.7,1460.7 427.1,1458.3 431.4,1455.6 435.8,1452.8 440.2,1449.9 444.6,1446.9 449,1443.5 453.3,1439.8 457.7,1435.8 462.1,1431.5 466.5,1427.1 470.9,1422.5 475.2,1417.7 479.6,1412.9 484,1407.7 488.4,1402.2 492.8,1396 497.1,1389 501.5,1380.7 505.9,1370.7 510.3,1359.3 514.7,1346 519,1330.6 523.4,1313.6 527.8,1294.7 532.2,1274.6 536.5,1253.5 540.9,1230.8 545.3,1206 549.7,1178.7 554.1,1146.9 558.4,1113 562.8,1080.4 567.2,1037.5 571.6,999.8 576,965.9 580.3,912.6 584.7,861.1 589.1,810.9 593.5,762.9 597.9,716.3 602.2,668.8 606.6,620.6 611,573.9 615.4,528.2 619.7,485.7 624.1,446.8 628.5,410.4 632.9,376.7 637.3,346.7 641.6,320.3 646,297.2 650.4,277.6 654.8,261.4 659.2,248.7 663.5,239.4 667.9,233.5 672.3,231.1 676.7,231.8 681.1,235 685.4,240.7 689.8,248.9 694.2,259.7 698.6,273 702.9,288.8 707.3,307.2 711.7,328.1 716.1,351.5 720.5,377.5 724.8,403.9 729.2,430.5 733.6,456 738,479.6 742.4,502.2 746.7,524 751.1,545.2 755.5,566.2 759.9,587.2 764.3,608.1 768.6,628.8 773,649.2 777.4,669.4 781.8,689.5 786.1,709.6 790.5,729.4 794.9,749.1 799.3,768.8 803.7,788.5 808,808.1 812.4,827.9 816.8,847.6 821.2,867.3 825.6,886.8 829.9,906.1 834.3,925.7 838.7,945.4 843.1,964.7 847.5,982.9 851.8,999.6 856.2,1015 860.6,1029.4 865,1043.2 869.3,1056.4 873.7,1069.2 878.1,1081.6 882.5,1093.5 886.9,1104.8 891.2,1115.7 895.6,1126.3 900,1136.7 904.4,1146.5 908.8,1155.7 913.1,1164.2 917.5,1172.1 921.9,1179.7 926.3,1187 930.7,1193.9 935,1200.5 939.4,1206.7 943.8,1212.6 948.2,1218.2 952.6,1223.5 956.9,1228.7 961.3,1233.7 965.7,1238.5 970.1,1243 974.4,1247.3 978.8,1251.3 983.2,1255.1 987.6,1258.5 992,1261.8 996.3,1265 1000.7,1268 1005.1,1270.7 1009.5,1273.2 1013.9,1275.4 1018.2,1277.2 1022.6,1278.7 1027,1280.2 1031.4,1281.7 1035.8,1283 1040.1,1284.2 1044.5,1285.2 1048.9,1285.9 1053.3,1286.3 1057.6,1286.4 1062,1286.2 1066.4,1285.9 1070.8,1285.3 1075.2,1284.6 1079.5,1283.8 1083.9,1282.9 1088.3,1281.9 1092.7,1280.8 1097.1,1279.5 1101.4,1277.6 1105.8,1275.2 1110.2,1272.4 1114.6,1269.5 1119,1266.4 1123.3,1263.5 1127.7,1260.8 1132.1,1258.1 1136.5,1255.3 1140.8,1252.5 1145.2,1249.7 1149.6,1247.1 1154,1244.6 1158.4,1242.3 1162.7,1240.3 1167.1,1238.3 1171.5,1236.4 1175.9,1234.6 1180.3,1233 1184.6,1231.5 1189,1230.3 1193.4,1229.4 1197.8,1228.8 1202.2,1228.1 1206.5,1227.5 1210.9,1227 1215.3,1226.6 1219.7,1226.3 1224,1226.1 1228.4,1226.1 1232.8,1226.4 1237.2,1226.8 1241.6,1227.4 1245.9,1228.2 1250.3,1229 1254.7,1230 1259.1,1231 1263.5,1232 1267.8,1233.2 1272.2,1234.7 1276.6,1236.4 1281,1238.3 1285.4,1240.4 1289.7,1242.8 1294.1,1245.4 1298.5,1249 1302.9,1253.8 1307.2,1258.8 1311.6,1263.4 1316,1267.5 1320.4,1271.4 1324.8,1275.4 1329.1,1279.5 1333.5,1283.8 1337.9,1288.1 1342.3,1292.5 1346.7,1296.9 1351,1301.2 1355.4,1305.4 1359.8,1309.5 1364.2,1313.3 1368.6,1317.1 1372.9,1320.7 1377.3,1324.3 1381.7,1327.8 1386.1,1331.3 1390.5,1334.8 1394.8,1338.4 1399.2,1342.1 1403.6,1345.8 1408,1349.5 1412.3,1353.2 1416.7,1356.8 1421.1,1360.3 1425.5,1363.6 1429.9,1366.6 1434.2,1369.5 1438.6,1372.2 1443,1374.8 1447.4,1377.4 1451.8,1380 1456.1,1382.6 1460.5,1385.4 1464.9,1388.2 1469.3,1391.2 1473.7,1394.2 1478,1397.2 1482.4,1400.2 1486.8,1403 1491.2,1405.8 1495.5,1408.3 1499.9,1410.9 1504.3,1413.5 1508.7,1416 1513.1,1418.4 1517.4,1420.6 1521.8,1422.5 1526.2,1424.1 1530.6,1425.3 1535,1426.2 1539.3,1427 1543.7,1427.8 1548.1,1428.5 1552.5,1429.3 1556.9,1430.2 1561.2,1431.3 1565.6,1432.8 1570,1434.7 1574.4,1436.7 1578.7,1438.9 1583.1,1440.9 1587.5,1442.7 1591.9,1444.1 1596.3,1445.1 1600.6,1446 1605,1446.7 1609.4,1447.4 1613.8,1448 1618.2,1448.6 1622.5,1449.1 1626.9,1449.7 1631.3,1450.2 1635.7,1450.6 1640.1,1451 1644.4,1451.5 1648.8,1451.9 1653.2,1452.3 1657.6,1452.7 1661.9,1453.2 1666.3,1453.8 1670.7,1454.4 1675.1,1455.1 1679.5,1455.7 1683.8,1456.4 1688.2,1457.1 1692.6,1457.8 1697,1458.5 1701.4,1459.2 1705.7,1460 1710.1,1460.7 1714.5,1461.5 1718.9,1462.2 1723.3,1462.8 1727.6,1463.3 1732,1463.8 1736.4,1464.2 1740.8,1464.6 1745.1,1465 1749.5,1465.4 1753.9,1465.7 1758.3,1466 1762.7,1466.3 1767,1466.6 1771.4,1466.8 1775.8,1467.1 1780.2,1467.3 1784.6,1467.5 1788.9,1467.7 1793.3,1467.8 1797.7,1468 1802.1,1468.3 1806.5,1468.5 1810.8,1468.8 1815.2,1469 1819.6,1469.3 1824,1469.5 1828.4,1469.8 1832.7,1470 1837.1,1470.2 1841.5,1470.3 1845.9,1470.5 1850.2,1470.7 1854.6,1470.8 1859,1471 1863.4,1471.1"/>
<polyline stroke="#008000" stroke-width="6.8" points="365.9,1471.6 370.2,1471.5 374.6,1471.3 379,1470.9 383.4,1470.5 387.8,1469.9 392.1,1469.3 396.5,1468.6 400.9,1467.8 405.3,1467 409.6,1466.1 414,1464.7 418.4,1462.9 422.8,1460.7 427.2,1458.2 431.5,1455.5 435.9,1452.7 440.3,1449.9 444.7,1446.8 449.1,1443.4 453.4,1439.7 457.8,1435.7 462.2,1431.4 466.6,1427 471,1422.4 475.3,1417.6 479.7,1412.7 484.1,1407.6 488.5,1402 492.8,1395.8 497.2,1388.8 501.6,1380.5 506,1370.5 510.4,1359 514.7,1345.8 519.1,1330.3 523.5,1313.2 527.9,1294.3 532.3,1274.2 536.6,1253 541,1230.3 545.4,1205.5 549.8,1178.1 554.2,1146.2 558.5,1112.3 562.9,1079.6 567.3,1036.6 571.7,998.8 576,964.8 580.4,911.4 584.8,859.8 589.2,809.5 593.6,761.4 597.9,714.7 602.3,667.1 606.7,618.8 611.1,572 615.5,526.2 619.8,483.6 624.2,444.6 628.6,408.2 633,374.4 637.4,344.4 641.7,317.8 646.1,294.7 650.5,275.1 654.9,258.9 659.2,246.1 663.6,236.8 668,230.9 672.4,228.5 676.8,229.1 681.1,232.3 685.5,238 689.9,246.3 694.3,257.1 698.7,270.4 703,286.2 707.4,304.6 711.8,325.6 716.2,349 720.6,375.1 724.9,401.6 729.3,428.2 733.7,453.7 738.1,477.4 742.4,500 746.8,521.8 751.2,543.1 755.6,564.1 760,585.2 764.3,606.1 768.7,626.8 773.1,647.2 777.5,667.5 781.9,687.7 786.2,707.8 790.6,727.6 795,747.4 799.4,767.1 803.8,786.8 808.1,806.5 812.5,826.3 816.9,846.1 821.3,865.8 825.7,885.3 830,904.7 834.4,924.3 838.8,944.1 843.2,963.4 847.5,981.7 851.9,998.4 856.3,1013.8 860.7,1028.3 865.1,1042.1 869.4,1055.3 873.8,1068.2 878.2,1080.6 882.6,1092.5 887,1103.8 891.3,1114.7 895.7,1125.4 900.1,1135.8 904.5,1145.6 908.9,1154.9 913.2,1163.4 917.6,1171.3 922,1178.9 926.4,1186.2 930.7,1193.1 935.1,1199.7 939.5,1206 943.9,1211.9 948.3,1217.4 952.6,1222.8 957,1228 961.4,1233 965.8,1237.8 970.2,1242.4 974.5,1246.7 978.9,1250.7 983.3,1254.4 987.7,1257.8 992.1,1261.1 996.4,1264.3 1000.8,1267.3 1005.2,1270.1 1009.6,1272.6 1013.9,1274.8 1018.3,1276.6 1022.7,1278.1 1027.1,1279.6 1031.5,1281.1 1035.8,1282.4 1040.2,1283.6 1044.6,1284.6 1049,1285.3 1053.4,1285.7 1057.7,1285.8 1062.1,1285.7 1066.5,1285.3 1070.9,1284.8 1075.3,1284.1 1079.6,1283.2 1084,1282.3 1088.4,1281.3 1092.8,1280.2 1097.1,1278.9 1101.5,1277 1105.9,1274.6 1110.3,1271.8 1114.7,1268.8 1119,1265.8 1123.4,1262.8 1127.8,1260.1 1132.2,1257.4 1136.6,1254.7 1140.9,1251.9 1145.3,1249.1 1149.7,1246.4 1154.1,1243.9 1158.5,1241.6 1162.8,1239.6 1167.2,1237.6 1171.6,1235.7 1176,1233.9 1180.3,1232.2 1184.7,1230.8 1189.1,1229.6 1193.5,1228.7 1197.9,1228 1202.2,1227.4 1206.6,1226.8 1211,1226.3 1215.4,1225.9 1219.8,1225.6 1224.1,1225.4 1228.5,1225.4 1232.9,1225.6 1237.3,1226.1 1241.7,1226.7 1246,1227.5 1250.4,1228.3 1254.8,1229.3 1259.2,1230.3 1263.6,1231.3 1267.9,1232.6 1272.3,1234 1276.7,1235.7 1281.1,1237.6 1285.4,1239.8 1289.8,1242.2 1294.2,1244.8 1298.6,1248.5 1303,1253.2 1307.3,1258.3 1311.7,1262.9 1316.1,1267 1320.5,1270.9 1324.9,1274.9 1329.2,1279 1333.6,1283.3 1338,1287.7 1342.4,1292.1 1346.8,1296.5 1351.1,1300.8 1355.5,1305 1359.9,1309.1 1364.3,1313 1368.6,1316.7 1373,1320.4 1377.4,1323.9 1381.8,1327.5 1386.2,1331 1390.5,1334.5 1394.9,1338.1 1399.3,1341.8 1403.7,1345.5 1408.1,1349.2 1412.4,1352.9 1416.8,1356.6 1421.2,1360 1425.6,1363.3 1430,1366.4 1434.3,1369.3 1438.7,1372 1443.1,1374.6 1447.5,1377.2 1451.8,1379.8 1456.2,1382.5 1460.6,1385.2 1465,1388.1 1469.4,1391 1473.7,1394 1478.1,1397.1 1482.5,1400 1486.9,1402.9 1491.3,1405.6 1495.6,1408.2 1500,1410.8 1504.4,1413.4 1508.8,1415.9 1513.2,1418.3 1517.5,1420.5 1521.9,1422.4 1526.3,1424 1530.7,1425.2 1535,1426.1 1539.4,1427 1543.8,1427.7 1548.2,1428.4 1552.6,1429.2 1556.9,1430.1 1561.3,1431.3 1565.7,1432.8 1570.1,1434.6 1574.5,1436.7 1578.8,1438.8 1583.2,1440.8 1587.6,1442.6 1592,1444.1 1596.4,1445.1 1600.7,1445.9 1605.1,1446.7 1609.5,1447.4 1613.9,1448 1618.2,1448.5 1622.6,1449.1 1627,1449.6 1631.4,1450.1 1635.8,1450.6 1640.1,1451 1644.5,1451.4 1648.9,1451.8 1653.3,1452.2 1657.7,1452.7 1662,1453.2 1666.4,1453.8 1670.8,1454.4 1675.2,1455 1679.6,1455.7 1683.9,1456.4 1688.3,1457.1 1692.7,1457.7 1697.1,1458.4 1701.5,1459.2 1705.8,1459.9 1710.2,1460.7 1714.6,1461.5 1719,1462.2 1723.3,1462.8 1727.7,1463.3 1732.1,1463.8 1736.5,1464.2 1740.9,1464.6 1745.2,1465 1749.6,1465.4 1754,1465.7 1758.4,1466 1762.8,1466.3 1767.1,1466.6 1771.5,1466.8 1775.9,1467.1 1780.3,1467.3 1784.7,1467.5 1789,1467.6 1793.4,1467.8 1797.8,1468 1802.2,1468.3 1806.5,1468.5 1810.9,1468.7 1815.3,1469 1819.7,1469.3 1824.1,1469.5 1828.4,1469.8 1832.8,1470 1837.2,1470.2 1841.6,1470.3 1846,1470.5 1850.3,1470.7 1854.7,1470.8 1859.1,1471 1863.5,1471.1"/>
<polyline stroke="#ff00ff" stroke-width="7.6" points="365.9,1471.6 370.3,1471.5 374.7,1471.3 379.1,1470.9 383.5,1470.5 387.8,1469.9 392.2,1469.3 396.6,1468.6 401,1467.8 405.4,1467 409.7,1466 414.1,1464.7 418.5,1462.9 422.9,1460.7 427.2,1458.2 431.6,1455.5 436,1452.7 440.4,1449.8 444.8,1446.8 449.1,1443.4 453.5,1439.6 457.9,1435.6 462.3,1431.4 466.7,1426.9 471,1422.3 475.4,1417.5 479.8,1412.6 484.2,1407.5 488.6,1401.9 492.9,1395.7 497.3,1388.7 501.7,1380.3 506.1,1370.3 510.4,1358.8 514.8,1345.5 519.2,1330 523.6,1312.9 528,1294 532.3,1273.8 536.7,1252.6 541.1,1229.8 545.5,1205 549.9,1177.5 554.2,1145.6 558.6,1111.6 563,1078.8 567.4,1035.8 571.8,997.8 576.1,963.8 580.5,910.4 584.9,858.6 589.3,808.2 593.6,760 598,713.3 602.4,665.5 606.8,617.1 611.2,570.2 615.5,524.3 619.9,481.7 624.3,442.6 628.7,406.1 633.1,372.2 637.4,342.2 641.8,315.6 646.2,292.4 650.6,272.7 655,256.5 659.3,243.7 663.7,234.4 668.1,228.5 672.5,226.1 676.8,226.7 681.2,229.9 685.6,235.6 690,243.9 694.4,254.6 698.7,268 703.1,283.9 707.5,302.3 711.9,323.2 716.3,346.8 720.6,372.8 725,399.4 729.4,426 733.8,451.6 738.2,475.3 742.5,497.9 746.9,519.8 751.3,541.1 755.7,562.2 760,583.3 764.4,604.3 768.8,625 773.2,645.5 777.6,665.8 781.9,686 786.3,706.1 790.7,726 795.1,745.8 799.5,765.5 803.8,785.3 808.2,805 812.6,824.9 817,844.7 821.4,864.4 825.7,884 830.1,903.4 834.5,923.1 838.9,942.9 843.3,962.2 847.6,980.5 852,997.3 856.4,1012.8 860.8,1027.3 865.1,1041 869.5,1054.3 873.9,1067.2 878.3,1079.6 882.7,1091.6 887,1102.9 891.4,1113.9 895.8,1124.6 900.2,1134.9 904.6,1144.8 908.9,1154.1 913.3,1162.6 917.7,1170.6 922.1,1178.2 926.5,1185.5 930.8,1192.4 935.2,1199 939.6,1205.3 944,1211.2 948.3,1216.8 952.7,1222.2 957.1,1227.4 961.5,1232.4 965.9,1237.2 970.2,1241.8 974.6,1246.1 979,1250.1 983.4,1253.8 987.8,1257.3 992.1,1260.6 996.5,1263.8 1000.9,1266.8 1005.3,1269.6 1009.7,1272.1 1014,1274.3 1018.4,1276 1022.8,1277.6 1027.2,1279.1 1031.5,1280.5 1035.9,1281.9 1040.3,1283.1 1044.7,1284 1049.1,1284.8 1053.4,1285.2 1057.8,1285.3 1062.2,1285.1 1066.6,1284.8 1071,1284.2 1075.3,1283.5 1079.7,1282.7 1084.1,1281.7 1088.5,1280.7 1092.9,1279.6 1097.2,1278.3 1101.6,1276.4 1106,1274 1110.4,1271.2 1114.7,1268.3 1119.1,1265.2 1123.5,1262.2 1127.9,1259.5 1132.3,1256.8 1136.6,1254.1 1141,1251.2 1145.4,1248.4 1149.8,1245.8 1154.2,1243.2 1158.5,1241 1162.9,1238.9 1167.3,1237 1171.7,1235.1 1176.1,1233.2 1180.4,1231.6 1184.8,1230.1 1189.2,1228.9 1193.6,1228 1197.9,1227.4 1202.3,1226.7 1206.7,1226.2 1211.1,1225.6 1215.5,1225.2 1219.8,1224.9 1224.2,1224.7 1228.6,1224.8 1233,1225 1237.4,1225.4 1241.7,1226 1246.1,1226.8 1250.5,1227.7 1254.9,1228.7 1259.3,1229.7 1263.6,1230.7 1268,1232 1272.4,1233.4 1276.8,1235.1 1281.2,1237.1 1285.5,1239.2 1289.9,1241.6 1294.3,1244.3 1298.7,1247.9 1303,1252.7 1307.4,1257.8 1311.8,1262.4 1316.2,1266.5 1320.6,1270.5 1324.9,1274.5 1329.3,1278.6 1333.7,1282.9 1338.1,1287.2 1342.5,1291.7 1346.8,1296.1 1351.2,1300.4 1355.6,1304.7 1360,1308.7 1364.4,1312.6 1368.7,1316.4 1373.1,1320 1377.5,1323.6 1381.9,1327.2 1386.2,1330.7 1390.6,1334.2 1395,1337.8 1399.4,1341.5 1403.8,1345.2 1408.1,1349 1412.5,1352.7 1416.9,1356.3 1421.3,1359.8 1425.7,1363.1 1430,1366.2 1434.4,1369.1 1438.8,1371.8 1443.2,1374.5 1447.6,1377.1 1451.9,1379.6 1456.3,1382.3 1460.7,1385 1465.1,1387.9 1469.4,1390.9 1473.8,1393.9 1478.2,1396.9 1482.6,1399.9 1487,1402.8 1491.3,1405.5 1495.7,1408.1 1500.1,1410.7 1504.5,1413.3 1508.9,1415.8 1513.2,1418.2 1517.6,1420.4 1522,1422.3 1526.4,1423.9 1530.8,1425.1 1535.1,1426.1 1539.5,1426.9 1543.9,1427.6 1548.3,1428.4 1552.6,1429.2 1557,1430.1 1561.4,1431.2 1565.8,1432.7 1570.2,1434.6 1574.5,1436.6 1578.9,1438.8 1583.3,1440.8 1587.7,1442.6 1592.1,1444 1596.4,1445 1600.8,1445.9 1605.2,1446.6 1609.6,1447.3 1614,1447.9 1618.3,1448.5 1622.7,1449.1 1627.1,1449.6 1631.5,1450.1 1635.8,1450.6 1640.2,1451 1644.6,1451.4 1649,1451.8 1653.4,1452.2 1657.7,1452.7 1662.1,1453.2 1666.5,1453.8 1670.9,1454.4 1675.3,1455 1679.6,1455.7 1684,1456.3 1688.4,1457 1692.8,1457.7 1697.2,1458.4 1701.5,1459.2 1705.9,1459.9 1710.3,1460.7 1714.7,1461.5 1719.1,1462.2 1723.4,1462.8 1727.8,1463.3 1732.2,1463.8 1736.6,1464.2 1740.9,1464.6 1745.3,1465 1749.7,1465.4 1754.1,1465.7 1758.5,1466 1762.8,1466.3 1767.2,1466.6 1771.6,1466.8 1776,1467 1780.4,1467.3 1784.7,1467.4 1789.1,1467.6 1793.5,1467.8 1797.9,1468 1802.3,1468.3 1806.6,1468.5 1811,1468.7 1815.4,1469 1819.8,1469.3 1824.1,1469.5 1828.5,1469.7 1832.9,1470 1837.3,1470.2 1841.7,1470.3 1846,1470.5 1850.4,1470.7 1854.8,1470.8 1859.2,1471 1863.6,1471.1"/>
<polyline stroke="#000080" stroke-width="7.6" points="366,1471.6 370.4,1471.5 374.8,1471.3 379.2,1470.9 383.5,1470.5 387.9,1469.9 392.3,1469.3 396.7,1468.6 401,1467.8 405.4,1467 409.8,1466 414.2,1464.7 418.6,1462.8 422.9,1460.6 427.3,1458.2 431.7,1455.5 436.1,1452.7 440.5,1449.8 444.8,1446.7 449.2,1443.3 453.6,1439.6 458,1435.6 462.4,1431.3 466.7,1426.8 471.1,1422.2 475.5,1417.4 479.9,1412.5 484.2,1407.4 488.6,1401.7 493,1395.5 497.4,1388.5 501.8,1380.2 506.1,1370.1 510.5,1358.6 514.9,1345.3 519.3,1329.7 523.7,1312.6 528,1293.7 532.4,1273.4 536.8,1252.2 541.2,1229.4 545.6,1204.5 549.9,1177 554.3,1145 558.7,1110.9 563.1,1078.1 567.5,1035 571.8,997 576.2,962.9 580.6,909.4 585,857.5 589.3,807 593.7,758.8 598.1,711.9 602.5,664.1 606.9,615.6 611.2,568.6 615.6,522.6 620,479.9 624.4,440.8 628.8,404.2 633.1,370.3 637.5,340.2 641.9,313.5 646.3,290.3 650.7,270.6 655,254.3 659.4,241.5 663.8,232.2 668.2,226.3 672.5,223.9 676.9,224.5 681.3,227.7 685.7,233.4 690.1,241.6 694.4,252.4 698.8,265.8 703.2,281.7 707.6,300.1 712,321.1 716.3,344.7 720.7,370.8 725.1,397.3 729.5,424 733.9,449.6 738.2,473.4 742.6,496.1 747,518 751.4,539.3 755.7,560.5 760.1,581.6 764.5,602.6 768.9,623.3 773.3,643.8 777.6,664.2 782,684.4 786.4,704.5 790.8,724.5 795.2,744.3 799.5,764.1 803.9,783.9 808.3,803.7 812.7,823.5 817.1,843.4 821.4,863.2 825.8,882.8 830.2,902.2 834.6,921.9 838.9,941.8 843.3,961.1 847.7,979.5 852.1,996.3 856.5,1011.8 860.8,1026.3 865.2,1040.1 869.6,1053.4 874,1066.3 878.4,1078.8 882.7,1090.7 887.1,1102.1 891.5,1113.1 895.9,1123.8 900.3,1134.2 904.6,1144.1 909,1153.3 913.4,1161.9 917.8,1169.9 922.1,1177.5 926.5,1184.8 930.9,1191.8 935.3,1198.4 939.7,1204.6 944,1210.6 948.4,1216.2 952.8,1221.6 957.2,1226.8 961.6,1231.8 965.9,1236.6 970.3,1241.2 974.7,1245.5 979.1,1249.6 983.5,1253.3 987.8,1256.7 992.2,1260 996.6,1263.2 1001,1266.3 1005.4,1269.1 1009.7,1271.6 1014.1,1273.8 1018.5,1275.5 1022.9,1277.1 1027.2,1278.6 1031.6,1280 1036,1281.4 1040.4,1282.6 1044.8,1283.5 1049.1,1284.3 1053.5,1284.7 1057.9,1284.8 1062.3,1284.6 1066.7,1284.3 1071,1283.7 1075.4,1283 1079.8,1282.2 1084.2,1281.2 1088.6,1280.2 1092.9,1279.1 1097.3,1277.8 1101.7,1275.9 1106.1,1273.5 1110.4,1270.7 1114.8,1267.7 1119.2,1264.7 1123.6,1261.7 1128,1259 1132.3,1256.3 1136.7,1253.5 1141.1,1250.7 1145.5,1247.9 1149.9,1245.2 1154.2,1242.7 1158.6,1240.4 1163,1238.4 1167.4,1236.4 1171.8,1234.5 1176.1,1232.6 1180.5,1231 1184.9,1229.5 1189.3,1228.3 1193.6,1227.4 1198,1226.7 1202.4,1226.1 1206.8,1225.5 1211.2,1225 1215.5,1224.6 1219.9,1224.3 1224.3,1224.1 1228.7,1224.1 1233.1,1224.4 1237.4,1224.8 1241.8,1225.5 1246.2,1226.2 1250.6,1227.1 1255,1228.1 1259.3,1229.1 1263.7,1230.1 1268.1,1231.4 1272.5,1232.9 1276.8,1234.6 1281.2,1236.5 1285.6,1238.7 1290,1241.1 1294.4,1243.8 1298.7,1247.4 1303.1,1252.2 1307.5,1257.3 1311.9,1261.9 1316.3,1266 1320.6,1270 1325,1274 1329.4,1278.2 1333.8,1282.5 1338.2,1286.9 1342.5,1291.3 1346.9,1295.7 1351.3,1300.1 1355.7,1304.3 1360,1308.4 1364.4,1312.3 1368.8,1316.1 1373.2,1319.7 1377.6,1323.3 1381.9,1326.9 1386.3,1330.4 1390.7,1334 1395.1,1337.6 1399.5,1341.2 1403.8,1345 1408.2,1348.8 1412.6,1352.5 1417,1356.1 1421.4,1359.6 1425.7,1362.9 1430.1,1366 1434.5,1368.9 1438.9,1371.6 1443.3,1374.3 1447.6,1376.9 1452,1379.5 1456.4,1382.1 1460.8,1384.9 1465.1,1387.8 1469.5,1390.7 1473.9,1393.8 1478.3,1396.8 1482.7,1399.8 1487,1402.7 1491.4,1405.4 1495.8,1408 1500.2,1410.6 1504.6,1413.2 1508.9,1415.7 1513.3,1418.1 1517.7,1420.3 1522.1,1422.2 1526.5,1423.8 1530.8,1425 1535.2,1426 1539.6,1426.8 1544,1427.6 1548.3,1428.3 1552.7,1429.1 1557.1,1430 1561.5,1431.1 1565.9,1432.7 1570.2,1434.5 1574.6,1436.6 1579,1438.7 1583.4,1440.7 1587.8,1442.6 1592.1,1444 1596.5,1445 1600.9,1445.9 1605.3,1446.6 1609.7,1447.3 1614,1447.9 1618.4,1448.5 1622.8,1449 1627.2,1449.6 1631.5,1450.1 1635.9,1450.5 1640.3,1451 1644.7,1451.4 1649.1,1451.8 1653.4,1452.2 1657.8,1452.7 1662.2,1453.2 1666.6,1453.7 1671,1454.3 1675.3,1455 1679.7,1455.6 1684.1,1456.3 1688.5,1457 1692.9,1457.7 1697.2,1458.4 1701.6,1459.1 1706,1459.9 1710.4,1460.7 1714.7,1461.5 1719.1,1462.2 1723.5,1462.8 1727.9,1463.3 1732.3,1463.7 1736.6,1464.2 1741,1464.6 1745.4,1465 1749.8,1465.3 1754.2,1465.7 1758.5,1466 1762.9,1466.3 1767.3,1466.6 1771.7,1466.8 1776.1,1467 1780.4,1467.2 1784.8,1467.4 1789.2,1467.6 1793.6,1467.8 1797.9,1468 1802.3,1468.2 1806.7,1468.5 1811.1,1468.7 1815.5,1469 1819.8,1469.3 1824.2,1469.5 1828.6,1469.7 1833,1470 1837.4,1470.2 1841.7,1470.3 1846.1,1470.5 1850.5,1470.7 1854.9,1470.8 1859.3,1471 1863.6,1471.1"/>
<polyline stroke="#008000" stroke-width="6.8" points="366.2,1471.6 370.6,1471.5 375,1471.3 379.4,1470.9 383.7,1470.4 388.1,1469.9 392.5,1469.2 396.9,1468.5 401.3,1467.8 405.6,1466.9 410,1466 414.4,1464.6 418.8,1462.8 423.2,1460.6 427.5,1458.1 431.9,1455.4 436.3,1452.6 440.7,1449.7 445,1446.6 449.4,1443.2 453.8,1439.4 458.2,1435.4 462.6,1431.1 466.9,1426.6 471.3,1421.9 475.7,1417.1 480.1,1412.2 484.5,1407 488.8,1401.4 493.2,1395.2 497.6,1388.1 502,1379.7 506.4,1369.6 510.7,1358.1 515.1,1344.7 519.5,1329 523.9,1311.9 528.3,1292.8 532.6,1272.5 537,1251.1 541.4,1228.2 545.8,1203.2 550.1,1175.6 554.5,1143.4 558.9,1109.2 563.3,1076.2 567.7,1032.9 572,994.7 576.4,960.4 580.8,906.6 585.2,854.6 589.6,803.8 593.9,755.3 598.3,708.2 602.7,660.2 607.1,611.4 611.5,564.2 615.8,518 620.2,475.1 624.6,435.8 629,399 633.3,365 637.7,334.7 642.1,307.9 646.5,284.6 650.9,264.8 655.2,248.5 659.6,235.6 664,226.2 668.4,220.3 672.8,217.8 677.1,218.4 681.5,221.6 685.9,227.3 690.3,235.6 694.7,246.4 699,259.8 703.4,275.7 707.8,294.2 712.2,315.3 716.5,338.9 720.9,365.1 725.3,391.8 729.7,418.6 734.1,444.3 738.4,468.2 742.8,491 747.2,513 751.6,534.4 756,555.6 760.3,576.8 764.7,597.9 769.1,618.8 773.5,639.4 777.9,659.8 782.2,680.1 786.6,700.4 791,720.4 795.4,740.3 799.7,760.2 804.1,780.1 808.5,800 812.9,819.9 817.3,839.8 821.6,859.7 826,879.4 830.4,899 834.8,918.8 839.2,938.7 843.5,958.2 847.9,976.7 852.3,993.5 856.7,1009.1 861.1,1023.7 865.4,1037.6 869.8,1050.9 874.2,1063.9 878.6,1076.4 882.9,1088.4 887.3,1099.9 891.7,1110.9 896.1,1121.7 900.5,1132.1 904.8,1142 909.2,1151.4 913.6,1159.9 918,1168 922.4,1175.7 926.7,1183 931.1,1190 935.5,1196.6 939.9,1202.9 944.3,1208.9 948.6,1214.5 953,1219.9 957.4,1225.2 961.8,1230.2 966.2,1235.1 970.5,1239.7 974.9,1244 979.3,1248.1 983.7,1251.8 988,1255.3 992.4,1258.6 996.8,1261.8 1001.2,1264.9 1005.6,1267.7 1009.9,1270.2 1014.3,1272.4 1018.7,1274.2 1023.1,1275.7 1027.5,1277.2 1031.8,1278.7 1036.2,1280 1040.6,1281.2 1045,1282.2 1049.4,1282.9 1053.7,1283.3 1058.1,1283.4 1062.5,1283.3 1066.9,1282.9 1071.2,1282.4 1075.6,1281.7 1080,1280.8 1084.4,1279.9 1088.8,1278.8 1093.1,1277.8 1097.5,1276.4 1101.9,1274.5 1106.3,1272.1 1110.7,1269.3 1115,1266.3 1119.4,1263.2 1123.8,1260.2 1128.2,1257.5 1132.6,1254.8 1136.9,1252 1141.3,1249.1 1145.7,1246.3 1150.1,1243.6 1154.4,1241.1 1158.8,1238.8 1163.2,1236.7 1167.6,1234.8 1172,1232.8 1176.3,1231 1180.7,1229.3 1185.1,1227.9 1189.5,1226.6 1193.9,1225.7 1198.2,1225.1 1202.6,1224.4 1207,1223.9 1211.4,1223.4 1215.8,1222.9 1220.1,1222.6 1224.5,1222.5 1228.9,1222.5 1233.3,1222.7 1237.6,1223.2 1242,1223.8 1246.4,1224.6 1250.8,1225.5 1255.2,1226.5 1259.5,1227.5 1263.9,1228.6 1268.3,1229.9 1272.7,1231.4 1277.1,1233.1 1281.4,1235.1 1285.8,1237.3 1290.2,1239.7 1294.6,1242.4 1299,1246.1 1303.3,1250.9 1307.7,1256 1312.1,1260.7 1316.5,1264.8 1320.8,1268.8 1325.2,1272.9 1329.6,1277.1 1334,1281.4 1338.4,1285.8 1342.7,1290.3 1347.1,1294.7 1351.5,1299.1 1355.9,1303.4 1360.3,1307.5 1364.6,1311.4 1369,1315.2 1373.4,1318.9 1377.8,1322.5 1382.2,1326.1 1386.5,1329.7 1390.9,1333.2 1395.3,1336.9 1399.7,1340.6 1404.1,1344.3 1408.4,1348.1 1412.8,1351.9 1417.2,1355.5 1421.6,1359.1 1425.9,1362.4 1430.3,1365.5 1434.7,1368.4 1439.1,1371.2 1443.5,1373.8 1447.8,1376.4 1452.2,1379 1456.6,1381.7 1461,1384.5 1465.4,1387.4 1469.7,1390.4 1474.1,1393.4 1478.5,1396.5 1482.9,1399.4 1487.3,1402.4 1491.6,1405.1 1496,1407.7 1500.4,1410.3 1504.8,1412.9 1509.1,1415.5 1513.5,1417.9 1517.9,1420.1 1522.3,1422 1526.7,1423.6 1531,1424.8 1535.4,1425.8 1539.8,1426.6 1544.2,1427.4 1548.6,1428.1 1552.9,1428.9 1557.3,1429.8 1561.7,1431 1566.1,1432.5 1570.5,1434.4 1574.8,1436.4 1579.2,1438.6 1583.6,1440.6 1588,1442.4 1592.3,1443.9 1596.7,1444.9 1601.1,1445.7 1605.5,1446.5 1609.9,1447.2 1614.2,1447.8 1618.6,1448.4 1623,1448.9 1627.4,1449.5 1631.8,1450 1636.1,1450.4 1640.5,1450.9 1644.9,1451.3 1649.3,1451.7 1653.7,1452.1 1658,1452.6 1662.4,1453.1 1666.8,1453.7 1671.2,1454.3 1675.5,1454.9 1679.9,1455.6 1684.3,1456.3 1688.7,1457 1693.1,1457.6 1697.4,1458.3 1701.8,1459.1 1706.2,1459.9 1710.6,1460.7 1715,1461.4 1719.3,1462.1 1723.7,1462.7 1728.1,1463.3 1732.5,1463.7 1736.9,1464.2 1741.2,1464.6 1745.6,1465 1750,1465.3 1754.4,1465.7 1758.7,1466 1763.1,1466.3 1767.5,1466.5 1771.9,1466.8 1776.3,1467 1780.6,1467.2 1785,1467.4 1789.4,1467.6 1793.8,1467.8 1798.2,1468 1802.5,1468.2 1806.9,1468.5 1811.3,1468.7 1815.7,1469 1820.1,1469.2 1824.4,1469.5 1828.8,1469.7 1833.2,1470 1837.6,1470.1 1842,1470.3 1846.3,1470.5 1850.7,1470.7 1855.1,1470.8 1859.5,1471 1863.8,1471.1"/>
<polyline stroke="#ff1a1a" stroke-width="7.6" points="366.5,1471.6 370.9,1471.5 375.3,1471.3 379.7,1470.9 384.1,1470.4 388.4,1469.9 392.8,1469.2 397.2,1468.5 401.6,1467.7 405.9,1466.9 410.3,1465.9 414.7,1464.6 419.1,1462.7 423.5,1460.5 427.8,1458 432.2,1455.3 436.6,1452.4 441,1449.5 445.4,1446.4 449.7,1443 454.1,1439.2 458.5,1435.1 462.9,1430.8 467.3,1426.3 471.6,1421.6 476,1416.7 480.4,1411.8 484.8,1406.6 489.1,1400.9 493.5,1394.6 497.9,1387.5 502.3,1379.1 506.7,1368.9 511,1357.3 515.4,1343.8 519.8,1328 524.2,1310.7 528.6,1291.5 532.9,1271 537.3,1249.6 541.7,1226.4 546.1,1201.3 550.5,1173.5 554.8,1141.1 559.2,1106.6 563.6,1073.4 568,1029.8 572.3,991.3 576.7,956.8 581.1,902.6 585.5,850.2 589.9,799.1 594.2,750.3 598.6,702.8 603,654.4 607.4,605.4 611.8,557.8 616.1,511.3 620.5,468.1 624.9,428.5 629.3,391.5 633.7,357.1 638,326.7 642.4,299.7 646.8,276.2 651.2,256.3 655.5,239.8 659.9,226.9 664.3,217.4 668.7,211.4 673.1,209 677.4,209.5 681.8,212.7 686.2,218.4 690.6,226.7 695,237.5 699.3,251 703.7,267 708.1,285.6 712.5,306.8 716.9,330.6 721.2,356.9 725.6,383.8 730,410.7 734.4,436.6 738.8,460.6 743.1,483.5 747.5,505.6 751.9,527.2 756.3,548.6 760.6,569.9 765,591.1 769.4,612.1 773.8,632.8 778.2,653.4 782.5,673.9 786.9,694.2 791.3,714.4 795.7,734.5 800.1,754.5 804.4,774.5 808.8,794.5 813.2,814.6 817.6,834.7 822,854.7 826.3,874.5 830.7,894.2 835.1,914.2 839.5,934.2 843.8,953.9 848.2,972.5 852.6,989.5 857,1005.1 861.4,1019.8 865.7,1033.8 870.1,1047.3 874.5,1060.4 878.9,1073 883.3,1085 887.6,1096.6 892,1107.7 896.4,1118.5 900.8,1129 905.2,1139.1 909.5,1148.5 913.9,1157.1 918.3,1165.2 922.7,1172.9 927,1180.3 931.4,1187.4 935.8,1194.1 940.2,1200.4 944.6,1206.4 948.9,1212.1 953.3,1217.5 957.7,1222.8 962.1,1227.9 966.5,1232.8 970.8,1237.4 975.2,1241.8 979.6,1245.9 984,1249.7 988.4,1253.1 992.7,1256.5 997.1,1259.7 1001.5,1262.8 1005.9,1265.6 1010.2,1268.2 1014.6,1270.4 1019,1272.2 1023.4,1273.7 1027.8,1275.3 1032.1,1276.7 1036.5,1278.1 1040.9,1279.3 1045.3,1280.2 1049.7,1281 1054,1281.4 1058.4,1281.4 1062.8,1281.3 1067.2,1280.9 1071.6,1280.4 1075.9,1279.7 1080.3,1278.8 1084.7,1277.9 1089.1,1276.8 1093.4,1275.7 1097.8,1274.4 1102.2,1272.5 1106.6,1270 1111,1267.2 1115.3,1264.2 1119.7,1261.1 1124.1,1258.1 1128.5,1255.3 1132.9,1252.6 1137.2,1249.7 1141.6,1246.9 1146,1244 1150.4,1241.3 1154.8,1238.7 1159.1,1236.4 1163.5,1234.4 1167.9,1232.4 1172.3,1230.4 1176.7,1228.6 1181,1226.9 1185.4,1225.4 1189.8,1224.2 1194.2,1223.3 1198.5,1222.6 1202.9,1222 1207.3,1221.4 1211.7,1220.9 1216.1,1220.5 1220.4,1220.2 1224.8,1220 1229.2,1220 1233.6,1220.3 1238,1220.8 1242.3,1221.5 1246.7,1222.3 1251.1,1223.2 1255.5,1224.2 1259.9,1225.2 1264.2,1226.3 1268.6,1227.6 1273,1229.2 1277.4,1230.9 1281.7,1232.9 1286.1,1235.1 1290.5,1237.6 1294.9,1240.3 1299.3,1244.1 1303.6,1249 1308,1254.1 1312.4,1258.8 1316.8,1263 1321.2,1267.1 1325.5,1271.2 1329.9,1275.4 1334.3,1279.8 1338.7,1284.3 1343.1,1288.8 1347.4,1293.3 1351.8,1297.7 1356.2,1302 1360.6,1306.2 1364.9,1310.2 1369.3,1314 1373.7,1317.7 1378.1,1321.4 1382.5,1325 1386.8,1328.6 1391.2,1332.2 1395.6,1335.8 1400,1339.6 1404.4,1343.4 1408.7,1347.2 1413.1,1351 1417.5,1354.7 1421.9,1358.2 1426.3,1361.6 1430.6,1364.7 1435,1367.7 1439.4,1370.4 1443.8,1373.1 1448.1,1375.8 1452.5,1378.4 1456.9,1381.1 1461.3,1383.9 1465.7,1386.8 1470,1389.8 1474.4,1392.9 1478.8,1396 1483.2,1399 1487.6,1401.9 1491.9,1404.7 1496.3,1407.3 1500.7,1409.9 1505.1,1412.6 1509.5,1415.1 1513.8,1417.6 1518.2,1419.8 1522.6,1421.7 1527,1423.3 1531.3,1424.5 1535.7,1425.5 1540.1,1426.4 1544.5,1427.1 1548.9,1427.9 1553.2,1428.7 1557.6,1429.6 1562,1430.7 1566.4,1432.3 1570.8,1434.2 1575.1,1436.2 1579.5,1438.4 1583.9,1440.4 1588.3,1442.3 1592.7,1443.7 1597,1444.7 1601.4,1445.6 1605.8,1446.4 1610.2,1447.1 1614.6,1447.7 1618.9,1448.3 1623.3,1448.8 1627.7,1449.4 1632.1,1449.9 1636.4,1450.3 1640.8,1450.8 1645.2,1451.2 1649.6,1451.6 1654,1452 1658.3,1452.5 1662.7,1453 1667.1,1453.6 1671.5,1454.2 1675.9,1454.8 1680.2,1455.5 1684.6,1456.2 1689,1456.9 1693.4,1457.6 1697.8,1458.3 1702.1,1459 1706.5,1459.8 1710.9,1460.6 1715.3,1461.4 1719.6,1462.1 1724,1462.7 1728.4,1463.2 1732.8,1463.7 1737.2,1464.1 1741.5,1464.5 1745.9,1464.9 1750.3,1465.3 1754.7,1465.6 1759.1,1465.9 1763.4,1466.2 1767.8,1466.5 1772.2,1466.8 1776.6,1467 1781,1467.2 1785.3,1467.4 1789.7,1467.6 1794.1,1467.8 1798.5,1468 1802.8,1468.2 1807.2,1468.5 1811.6,1468.7 1816,1469 1820.4,1469.2 1824.7,1469.5 1829.1,1469.7 1833.5,1469.9 1837.9,1470.1 1842.3,1470.3 1846.6,1470.5 1851,1470.7 1855.4,1470.8 1859.8,1470.9 1864.2,1471.1"/>
<polyline stroke="#008b8b" stroke-width="7.6" points="366.5,1471.6 370.9,1471.5 375.2,1471.3 379.6,1470.9 384,1470.4 388.4,1469.9 392.7,1469.2 397.1,1468.5 401.5,1467.7 405.9,1466.9 410.3,1466 414.6,1464.6 419,1462.7 423.4,1460.5 427.8,1458 432.2,1455.3 436.5,1452.4 440.9,1449.5 445.3,1446.5 449.7,1443 454.1,1439.2 458.4,1435.2 462.8,1430.9 467.2,1426.3 471.6,1421.6 475.9,1416.8 480.3,1411.9 484.7,1406.7 489.1,1401 493.5,1394.7 497.8,1387.6 502.2,1379.2 506.6,1369 511,1357.4 515.4,1344 519.7,1328.2 524.1,1311 528.5,1291.8 532.9,1271.3 537.3,1249.9 541.6,1226.8 546,1201.7 550.4,1173.9 554.8,1141.6 559.1,1107.1 563.5,1074 567.9,1030.4 572.3,992 576.7,957.6 581,903.5 585.4,851.1 589.8,800 594.2,751.3 598.6,703.9 602.9,655.6 607.3,606.6 611.7,559.1 616.1,512.7 620.5,469.5 624.8,430 629.2,393 633.6,358.7 638,328.3 642.3,301.4 646.7,278 651.1,258 655.5,241.6 659.9,228.6 664.2,219.2 668.6,213.3 673,210.8 677.4,211.4 681.8,214.5 686.1,220.2 690.5,228.5 694.9,239.3 699.3,252.8 703.7,268.8 708,287.4 712.4,308.5 716.8,332.3 721.2,358.6 725.6,385.4 729.9,412.3 734.3,438.2 738.7,462.2 743.1,485 747.4,507.1 751.8,528.7 756.2,550 760.6,571.3 765,592.5 769.3,613.5 773.7,634.2 778.1,654.7 782.5,675.1 786.9,695.5 791.2,715.6 795.6,735.7 800,755.6 804.4,775.6 808.8,795.6 813.1,815.7 817.5,835.7 821.9,855.7 826.3,875.5 830.6,895.2 835,915.1 839.4,935.2 843.8,954.8 848.2,973.3 852.5,990.3 856.9,1005.9 861.3,1020.6 865.7,1034.6 870.1,1048 874.4,1061.1 878.8,1073.7 883.2,1085.7 887.6,1097.3 892,1108.3 896.3,1119.2 900.7,1129.7 905.1,1139.7 909.5,1149.1 913.8,1157.7 918.2,1165.8 922.6,1173.5 927,1180.9 931.4,1187.9 935.7,1194.6 940.1,1200.9 944.5,1206.9 948.9,1212.6 953.3,1218 957.6,1223.3 962,1228.4 966.4,1233.3 970.8,1237.9 975.2,1242.3 979.5,1246.3 983.9,1250.1 988.3,1253.6 992.7,1256.9 997,1260.2 1001.4,1263.2 1005.8,1266 1010.2,1268.6 1014.6,1270.8 1018.9,1272.6 1023.3,1274.1 1027.7,1275.7 1032.1,1277.1 1036.5,1278.5 1040.8,1279.7 1045.2,1280.6 1049.6,1281.4 1054,1281.8 1058.4,1281.8 1062.7,1281.7 1067.1,1281.3 1071.5,1280.8 1075.9,1280.1 1080.2,1279.2 1084.6,1278.3 1089,1277.2 1093.4,1276.1 1097.8,1274.8 1102.1,1272.9 1106.5,1270.4 1110.9,1267.6 1115.3,1264.6 1119.7,1261.5 1124,1258.5 1128.4,1255.7 1132.8,1253 1137.2,1250.2 1141.6,1247.3 1145.9,1244.5 1150.3,1241.8 1154.7,1239.2 1159.1,1236.9 1163.5,1234.9 1167.8,1232.9 1172.2,1230.9 1176.6,1229.1 1181,1227.4 1185.3,1225.9 1189.7,1224.7 1194.1,1223.8 1198.5,1223.1 1202.9,1222.5 1207.2,1221.9 1211.6,1221.4 1216,1221 1220.4,1220.7 1224.8,1220.5 1229.1,1220.5 1233.5,1220.8 1237.9,1221.3 1242.3,1221.9 1246.7,1222.8 1251,1223.7 1255.4,1224.7 1259.8,1225.7 1264.2,1226.8 1268.5,1228.1 1272.9,1229.6 1277.3,1231.4 1281.7,1233.4 1286.1,1235.6 1290.4,1238 1294.8,1240.8 1299.2,1244.5 1303.6,1249.3 1308,1254.5 1312.3,1259.2 1316.7,1263.4 1321.1,1267.5 1325.5,1271.5 1329.9,1275.8 1334.2,1280.1 1338.6,1284.6 1343,1289.1 1347.4,1293.6 1351.7,1298 1356.1,1302.3 1360.5,1306.5 1364.9,1310.4 1369.3,1314.3 1373.6,1318 1378,1321.6 1382.4,1325.2 1386.8,1328.8 1391.2,1332.4 1395.5,1336.1 1399.9,1339.8 1404.3,1343.6 1408.7,1347.4 1413.1,1351.2 1417.4,1354.9 1421.8,1358.4 1426.2,1361.8 1430.6,1364.9 1434.9,1367.8 1439.3,1370.6 1443.7,1373.3 1448.1,1375.9 1452.5,1378.5 1456.8,1381.2 1461.2,1384 1465.6,1386.9 1470,1389.9 1474.4,1393 1478.7,1396.1 1483.1,1399.1 1487.5,1402 1491.9,1404.8 1496.3,1407.4 1500.6,1410 1505,1412.6 1509.4,1415.2 1513.8,1417.6 1518.1,1419.9 1522.5,1421.8 1526.9,1423.4 1531.3,1424.6 1535.7,1425.6 1540,1426.4 1544.4,1427.2 1548.8,1427.9 1553.2,1428.7 1557.6,1429.7 1561.9,1430.8 1566.3,1432.3 1570.7,1434.2 1575.1,1436.3 1579.5,1438.4 1583.8,1440.5 1588.2,1442.3 1592.6,1443.8 1597,1444.8 1601.4,1445.6 1605.7,1446.4 1610.1,1447.1 1614.5,1447.7 1618.9,1448.3 1623.2,1448.8 1627.6,1449.4 1632,1449.9 1636.4,1450.4 1640.8,1450.8 1645.1,1451.2 1649.5,1451.6 1653.9,1452 1658.3,1452.5 1662.7,1453 1667,1453.6 1671.4,1454.2 1675.8,1454.8 1680.2,1455.5 1684.6,1456.2 1688.9,1456.9 1693.3,1457.6 1697.7,1458.3 1702.1,1459 1706.4,1459.8 1710.8,1460.6 1715.2,1461.4 1719.6,1462.1 1724,1462.7 1728.3,1463.2 1732.7,1463.7 1737.1,1464.1 1741.5,1464.5 1745.9,1464.9 1750.2,1465.3 1754.6,1465.6 1759,1465.9 1763.4,1466.2 1767.8,1466.5 1772.1,1466.8 1776.5,1467 1780.9,1467.2 1785.3,1467.4 1789.6,1467.6 1794,1467.8 1798.4,1468 1802.8,1468.2 1807.2,1468.5 1811.5,1468.7 1815.9,1469 1820.3,1469.2 1824.7,1469.5 1829.1,1469.7 1833.4,1469.9 1837.8,1470.1 1842.2,1470.3 1846.6,1470.5 1851,1470.7 1855.3,1470.8 1859.7,1470.9 1864.1,1471.1"/>
<polyline stroke="#8b0000" stroke-width="7.6" points="366.8,1471.6 371.2,1471.5 375.5,1471.2 379.9,1470.9 384.3,1470.4 388.7,1469.8 393.1,1469.2 397.4,1468.5 401.8,1467.7 406.2,1466.8 410.6,1465.9 414.9,1464.5 419.3,1462.7 423.7,1460.4 428.1,1457.9 432.5,1455.2 436.8,1452.3 441.2,1449.4 445.6,1446.3 450,1442.8 454.4,1439 458.7,1434.9 463.1,1430.6 467.5,1426 471.9,1421.3 476.3,1416.4 480.6,1411.4 485,1406.2 489.4,1400.5 493.8,1394.2 498.2,1387 502.5,1378.5 506.9,1368.3 511.3,1356.6 515.7,1343 520,1327.2 524.4,1309.8 528.8,1290.5 533.2,1269.9 537.6,1248.3 541.9,1225.1 546.3,1199.8 550.7,1171.8 555.1,1139.3 559.5,1104.6 563.8,1071.2 568.2,1027.3 572.6,988.6 577,953.9 581.4,899.5 585.7,846.7 590.1,795.3 594.5,746.2 598.9,698.5 603.2,649.9 607.6,600.5 612,552.7 616.4,505.9 620.8,462.5 625.1,422.7 629.5,385.4 633.9,350.9 638.3,320.3 642.7,293.2 647,269.6 651.4,249.5 655.8,232.9 660.2,219.9 664.6,210.4 668.9,204.4 673.3,201.9 677.7,202.5 682.1,205.6 686.4,211.3 690.8,219.6 695.2,230.5 699.6,244 704,260 708.3,278.7 712.7,300 717.1,323.9 721.5,350.4 725.9,377.3 730.2,404.4 734.6,430.4 739,454.5 743.4,477.6 747.8,499.8 752.1,521.5 756.5,542.9 760.9,564.4 765.3,585.7 769.6,606.8 774,627.6 778.4,648.3 782.8,668.9 787.2,689.3 791.5,709.6 795.9,729.8 800.3,749.9 804.7,770 809.1,790.1 813.4,810.3 817.8,830.5 822.2,850.7 826.6,870.6 831,890.4 835.3,910.5 839.7,930.7 844.1,950.4 848.5,969.1 852.8,986.3 857.2,1002 861.6,1016.8 866,1030.8 870.4,1044.4 874.7,1057.5 879.1,1070.2 883.5,1082.4 887.9,1094 892.3,1105.1 896.6,1116.1 901,1126.6 905.4,1136.7 909.8,1146.2 914.2,1154.8 918.5,1163 922.9,1170.8 927.3,1178.2 931.7,1185.3 936.1,1192 940.4,1198.4 944.8,1204.4 949.2,1210.1 953.6,1215.6 957.9,1221 962.3,1226.1 966.7,1231 971.1,1235.6 975.5,1240 979.8,1244.2 984.2,1248 988.6,1251.5 993,1254.8 997.4,1258.1 1001.7,1261.2 1006.1,1264 1010.5,1266.6 1014.9,1268.8 1019.3,1270.6 1023.6,1272.1 1028,1273.7 1032.4,1275.1 1036.8,1276.5 1041.1,1277.7 1045.5,1278.7 1049.9,1279.4 1054.3,1279.8 1058.7,1279.9 1063,1279.7 1067.4,1279.4 1071.8,1278.8 1076.2,1278.1 1080.6,1277.3 1084.9,1276.3 1089.3,1275.2 1093.7,1274.1 1098.1,1272.8 1102.5,1270.9 1106.8,1268.4 1111.2,1265.5 1115.6,1262.5 1120,1259.4 1124.3,1256.3 1128.7,1253.5 1133.1,1250.8 1137.5,1247.9 1141.9,1245.1 1146.2,1242.2 1150.6,1239.4 1155,1236.9 1159.4,1234.5 1163.8,1232.5 1168.1,1230.5 1172.5,1228.5 1176.9,1226.7 1181.3,1225 1185.7,1223.5 1190,1222.2 1194.4,1221.3 1198.8,1220.7 1203.2,1220 1207.5,1219.5 1211.9,1218.9 1216.3,1218.5 1220.7,1218.2 1225.1,1218.1 1229.4,1218.1 1233.8,1218.4 1238.2,1218.9 1242.6,1219.6 1247,1220.4 1251.3,1221.3 1255.7,1222.4 1260.1,1223.4 1264.5,1224.5 1268.9,1225.9 1273.2,1227.4 1277.6,1229.2 1282,1231.2 1286.4,1233.5 1290.7,1236 1295.1,1238.7 1299.5,1242.5 1303.9,1247.4 1308.3,1252.7 1312.6,1257.4 1317,1261.6 1321.4,1265.7 1325.8,1269.9 1330.2,1274.1 1334.5,1278.5 1338.9,1283 1343.3,1287.6 1347.7,1292.1 1352.1,1296.6 1356.4,1301 1360.8,1305.2 1365.2,1309.2 1369.6,1313 1374,1316.8 1378.3,1320.5 1382.7,1324.1 1387.1,1327.7 1391.5,1331.3 1395.8,1335 1400.2,1338.8 1404.6,1342.6 1409,1346.5 1413.4,1350.3 1417.7,1354 1422.1,1357.6 1426.5,1361 1430.9,1364.1 1435.3,1367.1 1439.6,1369.9 1444,1372.6 1448.4,1375.2 1452.8,1377.9 1457.2,1380.6 1461.5,1383.4 1465.9,1386.3 1470.3,1389.4 1474.7,1392.5 1479,1395.6 1483.4,1398.6 1487.8,1401.5 1492.2,1404.3 1496.6,1407 1500.9,1409.6 1505.3,1412.3 1509.7,1414.9 1514.1,1417.3 1518.5,1419.5 1522.8,1421.5 1527.2,1423.1 1531.6,1424.3 1536,1425.3 1540.4,1426.2 1544.7,1426.9 1549.1,1427.7 1553.5,1428.5 1557.9,1429.4 1562.2,1430.6 1566.6,1432.1 1571,1434 1575.4,1436.1 1579.8,1438.2 1584.1,1440.3 1588.5,1442.1 1592.9,1443.6 1597.3,1444.6 1601.7,1445.5 1606,1446.3 1610.4,1446.9 1614.8,1447.6 1619.2,1448.2 1623.6,1448.7 1627.9,1449.3 1632.3,1449.8 1636.7,1450.2 1641.1,1450.7 1645.4,1451.1 1649.8,1451.5 1654.2,1451.9 1658.6,1452.4 1663,1452.9 1667.3,1453.5 1671.7,1454.1 1676.1,1454.8 1680.5,1455.4 1684.9,1456.1 1689.2,1456.8 1693.6,1457.5 1698,1458.2 1702.4,1459 1706.8,1459.8 1711.1,1460.5 1715.5,1461.3 1719.9,1462 1724.3,1462.6 1728.6,1463.2 1733,1463.6 1737.4,1464.1 1741.8,1464.5 1746.2,1464.9 1750.5,1465.3 1754.9,1465.6 1759.3,1465.9 1763.7,1466.2 1768.1,1466.5 1772.4,1466.7 1776.8,1467 1781.2,1467.2 1785.6,1467.4 1790,1467.6 1794.3,1467.8 1798.7,1468 1803.1,1468.2 1807.5,1468.4 1811.9,1468.7 1816.2,1469 1820.6,1469.2 1825,1469.5 1829.4,1469.7 1833.7,1469.9 1838.1,1470.1 1842.5,1470.3 1846.9,1470.5 1851.3,1470.6 1855.6,1470.8 1860,1470.9 1864.4,1471.1"/>
<polyline stroke="#e9604a" stroke-width="7.6" points="366.3,1471.6 370.6,1471.5 375,1471.3 379.4,1470.9 383.8,1470.4 388.2,1469.9 392.5,1469.2 396.9,1468.5 401.3,1467.7 405.7,1466.9 410.1,1466 414.4,1464.6 418.8,1462.8 423.2,1460.6 427.6,1458.1 431.9,1455.4 436.3,1452.5 440.7,1449.6 445.1,1446.6 449.5,1443.2 453.8,1439.4 458.2,1435.3 462.6,1431.1 467,1426.6 471.4,1421.9 475.7,1417.1 480.1,1412.2 484.5,1407 488.9,1401.3 493.3,1395.1 497.6,1388.1 502,1379.6 506.4,1369.5 510.8,1358 515.1,1344.6 519.5,1328.9 523.9,1311.7 528.3,1292.7 532.7,1272.3 537,1250.9 541.4,1228 545.8,1203 550.2,1175.3 554.6,1143.2 558.9,1108.9 563.3,1075.9 567.7,1032.5 572.1,994.3 576.5,960 580.8,906.2 585.2,854.1 589.6,803.3 594,754.7 598.3,707.6 602.7,659.5 607.1,610.8 611.5,563.5 615.9,517.3 620.2,474.3 624.6,435 629,398.2 633.4,364.1 637.8,333.8 642.1,307 646.5,283.7 650.9,263.8 655.3,247.5 659.7,234.6 664,225.2 668.4,219.3 672.8,216.8 677.2,217.4 681.6,220.6 685.9,226.3 690.3,234.5 694.7,245.4 699.1,258.8 703.4,274.7 707.8,293.2 712.2,314.3 716.6,338 721,364.2 725.3,390.9 729.7,417.7 734.1,443.5 738.5,467.3 742.9,490.1 747.2,512.1 751.6,533.6 756,554.8 760.4,576 764.8,597.2 769.1,618 773.5,638.6 777.9,659.1 782.3,679.4 786.6,699.7 791,719.7 795.4,739.7 799.8,759.6 804.2,779.4 808.5,799.3 812.9,819.3 817.3,839.3 821.7,859.1 826.1,878.9 830.4,898.4 834.8,918.3 839.2,938.2 843.6,957.7 848,976.2 852.3,993.1 856.7,1008.6 861.1,1023.2 865.5,1037.1 869.8,1050.5 874.2,1063.5 878.6,1076 883,1088 887.4,1099.5 891.7,1110.5 896.1,1121.3 900.5,1131.7 904.9,1141.7 909.3,1151 913.6,1159.6 918,1167.7 922.4,1175.3 926.8,1182.7 931.2,1189.7 935.5,1196.3 939.9,1202.6 944.3,1208.6 948.7,1214.2 953,1219.7 957.4,1224.9 961.8,1230 966.2,1234.8 970.6,1239.4 974.9,1243.8 979.3,1247.8 983.7,1251.6 988.1,1255 992.5,1258.4 996.8,1261.6 1001.2,1264.6 1005.6,1267.4 1010,1270 1014.4,1272.2 1018.7,1274 1023.1,1275.5 1027.5,1277 1031.9,1278.5 1036.2,1279.8 1040.6,1281 1045,1282 1049.4,1282.7 1053.8,1283.1 1058.1,1283.2 1062.5,1283.1 1066.9,1282.7 1071.3,1282.1 1075.7,1281.4 1080,1280.6 1084.4,1279.7 1088.8,1278.6 1093.2,1277.5 1097.6,1276.2 1101.9,1274.3 1106.3,1271.9 1110.7,1269.1 1115.1,1266 1119.5,1263 1123.8,1260 1128.2,1257.2 1132.6,1254.5 1137,1251.7 1141.3,1248.9 1145.7,1246.1 1150.1,1243.3 1154.5,1240.8 1158.9,1238.5 1163.2,1236.5 1167.6,1234.5 1172,1232.6 1176.4,1230.7 1180.8,1229 1185.1,1227.6 1189.5,1226.4 1193.9,1225.5 1198.3,1224.8 1202.7,1224.2 1207,1223.6 1211.4,1223.1 1215.8,1222.7 1220.2,1222.4 1224.5,1222.2 1228.9,1222.2 1233.3,1222.5 1237.7,1222.9 1242.1,1223.6 1246.4,1224.4 1250.8,1225.3 1255.2,1226.2 1259.6,1227.3 1264,1228.3 1268.3,1229.6 1272.7,1231.1 1277.1,1232.9 1281.5,1234.8 1285.9,1237 1290.2,1239.5 1294.6,1242.1 1299,1245.8 1303.4,1250.7 1307.7,1255.8 1312.1,1260.4 1316.5,1264.6 1320.9,1268.6 1325.3,1272.7 1329.6,1276.9 1334,1281.2 1338.4,1285.6 1342.8,1290.1 1347.2,1294.6 1351.5,1299 1355.9,1303.2 1360.3,1307.4 1364.7,1311.3 1369.1,1315.1 1373.4,1318.8 1377.8,1322.4 1382.2,1326 1386.6,1329.5 1390.9,1333.1 1395.3,1336.7 1399.7,1340.5 1404.1,1344.2 1408.5,1348 1412.8,1351.8 1417.2,1355.4 1421.6,1359 1426,1362.3 1430.4,1365.4 1434.7,1368.3 1439.1,1371.1 1443.5,1373.7 1447.9,1376.4 1452.3,1379 1456.6,1381.6 1461,1384.4 1465.4,1387.3 1469.8,1390.3 1474.1,1393.3 1478.5,1396.4 1482.9,1399.4 1487.3,1402.3 1491.7,1405.1 1496,1407.7 1500.4,1410.3 1504.8,1412.9 1509.2,1415.5 1513.6,1417.9 1517.9,1420.1 1522.3,1422 1526.7,1423.6 1531.1,1424.8 1535.5,1425.8 1539.8,1426.6 1544.2,1427.4 1548.6,1428.1 1553,1428.9 1557.4,1429.8 1561.7,1430.9 1566.1,1432.5 1570.5,1434.3 1574.9,1436.4 1579.2,1438.6 1583.6,1440.6 1588,1442.4 1592.4,1443.9 1596.8,1444.9 1601.1,1445.7 1605.5,1446.5 1609.9,1447.2 1614.3,1447.8 1618.7,1448.4 1623,1448.9 1627.4,1449.5 1631.8,1450 1636.2,1450.4 1640.6,1450.9 1644.9,1451.3 1649.3,1451.7 1653.7,1452.1 1658.1,1452.6 1662.4,1453.1 1666.8,1453.6 1671.2,1454.3 1675.6,1454.9 1680,1455.6 1684.3,1456.3 1688.7,1457 1693.1,1457.6 1697.5,1458.3 1701.9,1459.1 1706.2,1459.9 1710.6,1460.6 1715,1461.4 1719.4,1462.1 1723.8,1462.7 1728.1,1463.2 1732.5,1463.7 1736.9,1464.2 1741.3,1464.6 1745.6,1465 1750,1465.3 1754.4,1465.7 1758.8,1466 1763.2,1466.3 1767.5,1466.5 1771.9,1466.8 1776.3,1467 1780.7,1467.2 1785.1,1467.4 1789.4,1467.6 1793.8,1467.8 1798.2,1468 1802.6,1468.2 1807,1468.5 1811.3,1468.7 1815.7,1469 1820.1,1469.2 1824.5,1469.5 1828.8,1469.7 1833.2,1469.9 1837.6,1470.1 1842,1470.3 1846.4,1470.5 1850.7,1470.7 1855.1,1470.8 1859.5,1471 1863.9,1471.1"/>
<polyline stroke="#800000" stroke-width="5.1" points="364.5,1471.7 368.9,1471.6 373.2,1471.3 377.6,1471 382,1470.6 386.4,1470 390.7,1469.4 395.1,1468.7 399.5,1468 403.9,1467.2 408.3,1466.3 412.6,1465 417,1463.2 421.4,1461.1 425.8,1458.7 430.2,1456.1 434.5,1453.4 438.9,1450.6 443.3,1447.7 447.7,1444.4 452.1,1440.8 456.4,1436.9 460.8,1432.8 465.2,1428.5 469.6,1424 474,1419.4 478.3,1414.7 482.7,1409.7 487.1,1404.3 491.5,1398.3 495.8,1391.5 500.2,1383.5 504.6,1373.7 509,1362.7 513.4,1349.8 517.7,1334.8 522.1,1318.3 526.5,1300 530.9,1280.5 535.3,1260 539.6,1238 544,1214 548.4,1187.5 552.8,1156.7 557.2,1123.8 561.5,1092.1 565.9,1050.5 570.3,1013.9 574.7,981 579,929.3 583.4,879.4 587.8,830.6 592.2,784.1 596.6,738.9 600.9,692.8 605.3,646 609.7,600.7 614.1,556.3 618.5,515.1 622.8,477.4 627.2,442.1 631.6,409.4 636,380.3 640.4,354.6 644.7,332.3 649.1,313.2 653.5,297.5 657.9,285.2 662.2,276.2 666.6,270.5 671,268.2 675.4,269 679.8,272.2 684.1,278 688.5,286.1 692.9,296.8 697.3,309.8 701.7,325.3 706,343.3 710.4,363.7 714.8,386.6 719.2,411.9 723.6,437.7 727.9,463.6 732.3,488.4 736.7,511.4 741.1,533.4 745.4,554.6 749.8,575.3 754.2,595.8 758.6,616.2 763,636.6 767.3,656.7 771.7,676.5 776.1,696.2 780.5,715.8 784.9,735.2 789.2,754.5 793.6,773.7 798,792.8 802.4,811.9 806.8,831 811.1,850.2 815.5,869.3 819.9,888.4 824.3,907.3 828.6,926 833,945 837.4,964.1 841.8,982.7 846.2,1000.4 850.5,1016.6 854.9,1031.5 859.3,1045.5 863.7,1058.8 868.1,1071.7 872.4,1084.1 876.8,1096.1 881.2,1107.6 885.6,1118.6 890,1129.1 894.3,1139.4 898.7,1149.4 903.1,1158.9 907.5,1167.9 911.9,1176.1 916.2,1183.8 920.6,1191.1 925,1198.1 929.4,1204.8 933.7,1211.2 938.1,1217.2 942.5,1222.9 946.9,1228.3 951.3,1233.5 955.6,1238.5 960,1243.4 964.4,1248 968.8,1252.4 973.2,1256.6 977.5,1260.5 981.9,1264.1 986.3,1267.4 990.7,1270.6 995.1,1273.7 999.4,1276.6 1003.8,1279.3 1008.2,1281.7 1012.6,1283.8 1016.9,1285.6 1021.3,1287.1 1025.7,1288.5 1030.1,1290 1034.5,1291.3 1038.8,1292.4 1043.2,1293.4 1047.6,1294.1 1052,1294.6 1056.4,1294.7 1060.7,1294.5 1065.1,1294.2 1069.5,1293.6 1073.9,1293 1078.3,1292.1 1082.6,1291.2 1087,1290.2 1091.4,1289.2 1095.8,1287.9 1100.1,1286.1 1104.5,1283.8 1108.9,1281.1 1113.3,1278.3 1117.7,1275.4 1122,1272.5 1126.4,1269.9 1130.8,1267.4 1135.2,1264.7 1139.6,1262 1143.9,1259.3 1148.3,1256.7 1152.7,1254.3 1157.1,1252.1 1161.5,1250.2 1165.8,1248.3 1170.2,1246.5 1174.6,1244.7 1179,1243.1 1183.3,1241.7 1187.7,1240.5 1192.1,1239.7 1196.5,1239 1200.9,1238.4 1205.2,1237.8 1209.6,1237.3 1214,1236.9 1218.4,1236.6 1222.8,1236.4 1227.1,1236.3 1231.5,1236.5 1235.9,1236.8 1240.3,1237.3 1244.7,1238 1249,1238.8 1253.4,1239.6 1257.8,1240.5 1262.2,1241.4 1266.5,1242.6 1270.9,1243.9 1275.3,1245.5 1279.7,1247.2 1284.1,1249.2 1288.4,1251.5 1292.8,1253.9 1297.2,1257.4 1301.6,1261.9 1306,1266.7 1310.3,1271 1314.7,1274.9 1319.1,1278.7 1323.5,1282.4 1327.9,1286.4 1332.2,1290.4 1336.6,1294.6 1341,1298.8 1345.4,1302.9 1349.8,1307.1 1354.1,1311.1 1358.5,1315 1362.9,1318.7 1367.3,1322.2 1371.6,1325.7 1376,1329.1 1380.4,1332.5 1384.8,1335.9 1389.2,1339.2 1393.5,1342.7 1397.9,1346.2 1402.3,1349.8 1406.7,1353.3 1411.1,1356.9 1415.4,1360.4 1419.8,1363.7 1424.2,1366.9 1428.6,1369.8 1433,1372.6 1437.3,1375.2 1441.7,1377.7 1446.1,1380.2 1450.5,1382.7 1454.8,1385.2 1459.2,1387.9 1463.6,1390.6 1468,1393.5 1472.4,1396.4 1476.7,1399.3 1481.1,1402.2 1485.5,1404.9 1489.9,1407.6 1494.3,1410.1 1498.6,1412.6 1503,1415.1 1507.4,1417.5 1511.8,1419.8 1516.2,1421.9 1520.5,1423.8 1524.9,1425.3 1529.3,1426.4 1533.7,1427.4 1538,1428.2 1542.4,1428.9 1546.8,1429.6 1551.2,1430.3 1555.6,1431.2 1559.9,1432.3 1564.3,1433.8 1568.7,1435.6 1573.1,1437.6 1577.5,1439.7 1581.8,1441.6 1586.2,1443.4 1590.6,1444.8 1595,1445.8 1599.4,1446.6 1603.7,1447.3 1608.1,1448 1612.5,1448.6 1616.9,1449.1 1621.2,1449.7 1625.6,1450.2 1630,1450.7 1634.4,1451.1 1638.8,1451.5 1643.1,1451.9 1647.5,1452.3 1651.9,1452.7 1656.3,1453.2 1660.7,1453.7 1665,1454.2 1669.4,1454.8 1673.8,1455.4 1678.2,1456.1 1682.6,1456.7 1686.9,1457.4 1691.3,1458.1 1695.7,1458.8 1700.1,1459.5 1704.4,1460.2 1708.8,1461 1713.2,1461.7 1717.6,1462.4 1722,1463 1726.3,1463.5 1730.7,1464 1735.1,1464.4 1739.5,1464.8 1743.9,1465.2 1748.2,1465.5 1752.6,1465.9 1757,1466.2 1761.4,1466.4 1765.8,1466.7 1770.1,1467 1774.5,1467.2 1778.9,1467.4 1783.3,1467.6 1787.7,1467.8 1792,1467.9 1796.4,1468.1 1800.8,1468.4 1805.2,1468.6 1809.5,1468.8 1813.9,1469.1 1818.3,1469.3 1822.7,1469.6 1827.1,1469.8 1831.4,1470 1835.8,1470.2 1840.2,1470.4 1844.6,1470.6 1849,1470.7 1853.3,1470.9 1857.7,1471 1862.1,1471.1"/>
<polyline stroke="#ff1a1a" stroke-width="0.6" points="690.6,226.7 695,237.5"/>
<polyline stroke="#ff1a1a" stroke-width="0.8" points="695,237.5 699.3,251"/>
<polyline stroke="#ff1a1a" stroke-width="1.1" points="699.3,251 703.7,267"/>
<polyline stroke="#ff1a1a" stroke-width="1.5" points="703.7,267 708.1,285.6"/>
<polyline stroke="#ff1a1a" stroke-width="1.9" points="708.1,285.6 712.5,306.8"/>
<polyline stroke="#ff1a1a" stroke-width="2.3" points="712.5,306.8 716.9,330.6"/>
<polyline stroke="#ff1a1a" stroke-width="2.7" points="716.9,330.6 721.2,356.9"/>
<polyline stroke="#ff1a1a" stroke-width="3" points="721.2,356.9 725.6,383.8"/>
<polyline stroke="#ff1a1a" stroke-width="3.4" points="725.6,383.8 730,410.7"/>
<polyline stroke="#ff1a1a" stroke-width="3.8" points="730,410.7 734.4,436.6"/>
<polyline stroke="#ff1a1a" stroke-width="4.2" points="734.4,436.6 738.8,460.6"/>
<polyline stroke="#ff1a1a" stroke-width="4.6" points="738.8,460.6 743.1,483.5"/>
<polyline stroke="#ff1a1a" stroke-width="4.9" points="743.1,483.5 747.5,505.6"/>
<polyline stroke="#ff1a1a" stroke-width="5.3" points="747.5,505.6 751.9,527.2"/>
<polyline stroke="#ff1a1a" stroke-width="5.7" points="751.9,527.2 756.3,548.6"/>
<polyline stroke="#ff1a1a" stroke-width="6.1" points="756.3,548.6 760.6,569.9"/>
<polyline stroke="#ff1a1a" stroke-width="6.5" points="760.6,569.9 765,591.1"/>
<polyline stroke="#ff1a1a" stroke-width="6.8" points="765,591.1 769.4,612.1"/>
<polyline stroke="#ff1a1a" stroke-width="7.2" points="769.4,612.1 773.8,632.8"/>
<polyline stroke="#ff1a1a" stroke-width="7.6" points="773.8,632.8 778.2,653.4"/>
<polyline stroke="#ff1a1a" stroke-width="7.6" points="778.2,653.4 782.5,673.9 786.9,694.2 791.3,714.4 795.7,734.5 800.1,754.5 804.4,774.5 808.8,794.5 813.2,814.6 817.6,834.7 822,854.7 826.3,874.5 830.7,894.2 835.1,914.2 839.5,934.2 843.8,953.9 848.2,972.5 852.6,989.5 857,1005.1 861.4,1019.8 865.7,1033.8 870.1,1047.3 874.5,1060.4 878.9,1073 883.3,1085 887.6,1096.6 892,1107.7 896.4,1118.5 900.8,1129 905.2,1139.1 909.5,1148.5 913.9,1157.1 918.3,1165.2 922.7,1172.9 927,1180.3 931.4,1187.4 935.8,1194.1 940.2,1200.4 944.6,1206.4 948.9,1212.1 953.3,1217.5 957.7,1222.8 962.1,1227.9 966.5,1232.8 970.8,1237.4 975.2,1241.8 979.6,1245.9 984,1249.7 988.4,1253.1 992.7,1256.5 997.1,1259.7 1001.5,1262.8 1005.9,1265.6 1010.2,1268.2 1014.6,1270.4 1019,1272.2 1023.4,1273.7 1027.8,1275.3 1032.1,1276.7 1036.5,1278.1 1040.9,1279.3 1045.3,1280.2 1049.7,1281 1054,1281.4 1058.4,1281.4 1062.8,1281.3 1067.2,1280.9 1071.6,1280.4 1075.9,1279.7 1080.3,1278.8 1084.7,1277.9 1089.1,1276.8 1093.4,1275.7 1097.8,1274.4 1102.2,1272.5 1106.6,1270 1111,1267.2 1115.3,1264.2 1119.7,1261.1 1124.1,1258.1 1128.5,1255.3 1132.9,1252.6 1137.2,1249.7 1141.6,1246.9 1146,1244 1150.4,1241.3 1154.8,1238.7 1159.1,1236.4 1163.5,1234.4 1167.9,1232.4 1172.3,1230.4 1176.7,1228.6 1181,1226.9 1185.4,1225.4 1189.8,1224.2 1194.2,1223.3 1198.5,1222.6 1202.9,1222 1207.3,1221.4 1211.7,1220.9 1216.1,1220.5 1220.4,1220.2 1224.8,1220 1229.2,1220 1233.6,1220.3 1238,1220.8 1242.3,1221.5 1246.7,1222.3 1251.1,1223.2 1255.5,1224.2 1259.9,1225.2 1264.2,1226.3 1268.6,1227.6 1273,1229.2 1277.4,1230.9 1281.7,1232.9 1286.1,1235.1 1290.5,1237.6 1294.9,1240.3 1299.3,1244.1 1303.6,1249 1308,1254.1 1312.4,1258.8 1316.8,1263 1321.2,1267.1 1325.5,1271.2 1329.9,1275.4 1334.3,1279.8 1338.7,1284.3 1343.1,1288.8 1347.4,1293.3 1351.8,1297.7 1356.2,1302 1360.6,1306.2 1364.9,1310.2 1369.3,1314 1373.7,1317.7 1378.1,1321.4 1382.5,1325 1386.8,1328.6 1391.2,1332.2 1395.6,1335.8 1400,1339.6 1404.4,1343.4 1408.7,1347.2 1413.1,1351 1417.5,1354.7 1421.9,1358.2 1426.3,1361.6 1430.6,1364.7 1435,1367.7 1439.4,1370.4 1443.8,1373.1 1448.1,1375.8 1452.5,1378.4 1456.9,1381.1 1461.3,1383.9 1465.7,1386.8 1470,1389.8 1474.4,1392.9 1478.8,1396 1483.2,1399 1487.6,1401.9 1491.9,1404.7 1496.3,1407.3 1500.7,1409.9 1505.1,1412.6 1509.5,1415.1 1513.8,1417.6 1518.2,1419.8 1522.6,1421.7 1527,1423.3 1531.3,1424.5 1535.7,1425.5 1540.1,1426.4 1544.5,1427.1 1548.9,1427.9 1553.2,1428.7 1557.6,1429.6 1562,1430.7 1566.4,1432.3 1570.8,1434.2 1575.1,1436.2 1579.5,1438.4 1583.9,1440.4 1588.3,1442.3 1592.7,1443.7 1597,1444.7 1601.4,1445.6 1605.8,1446.4 1610.2,1447.1 1614.6,1447.7 1618.9,1448.3 1623.3,1448.8 1627.7,1449.4 1632.1,1449.9 1636.4,1450.3 1640.8,1450.8 1645.2,1451.2 1649.6,1451.6 1654,1452 1658.3,1452.5 1662.7,1453 1667.1,1453.6 1671.5,1454.2 1675.9,1454.8 1680.2,1455.5 1684.6,1456.2 1689,1456.9 1693.4,1457.6 1697.8,1458.3 1702.1,1459 1706.5,1459.8 1710.9,1460.6 1715.3,1461.4 1719.6,1462.1 1724,1462.7 1728.4,1463.2 1732.8,1463.7 1737.2,1464.1 1741.5,1464.5 1745.9,1464.9 1750.3,1465.3 1754.7,1465.6 1759.1,1465.9 1763.4,1466.2 1767.8,1466.5 1772.2,1466.8 1776.6,1467 1781,1467.2 1785.3,1467.4 1789.7,1467.6 1794.1,1467.8 1798.5,1468 1802.8,1468.2 1807.2,1468.5 1811.6,1468.7 1816,1469 1820.4,1469.2 1824.7,1469.5 1829.1,1469.7 1833.5,1469.9 1837.9,1470.1 1842.3,1470.3 1846.6,1470.5 1851,1470.7 1855.4,1470.8 1859.8,1470.9 1864.2,1471.1"/>
<polyline stroke="#f03246" stroke-width="7.2" points="365.2,1471.7 369.5,1471.6 373.9,1471.3 378.3,1471 382.7,1470.5 387.1,1470 391.4,1469.3 395.8,1468.6 400.2,1467.9 404.6,1467.1 408.9,1466.2 413.3,1464.8 417.7,1463 422.1,1460.9 426.5,1458.5 430.8,1455.8 435.2,1453.1 439.6,1450.2 444,1447.3 448.4,1443.9 452.7,1440.3 457.1,1436.3 461.5,1432.1 465.9,1427.7 470.3,1423.2 474.6,1418.5 479,1413.7 483.4,1408.7 487.8,1403.2 492.1,1397.1 496.5,1390.2 500.9,1382 505.3,1372.1 509.7,1360.9 514,1347.8 518.4,1332.6 522.8,1315.8 527.2,1297.2 531.6,1277.4 535.9,1256.6 540.3,1234.2 544.7,1209.8 549.1,1182.9 553.5,1151.5 557.8,1118.1 562.2,1086 566.6,1043.7 571,1006.4 575.3,973 579.7,920.5 584.1,869.7 588.5,820.2 592.9,772.9 597.2,727 601.6,680.1 606,632.6 610.4,586.5 614.8,541.5 619.1,499.6 623.5,461.3 627.9,425.4 632.3,392.1 636.7,362.6 641,336.5 645.4,313.8 649.8,294.4 654.2,278.5 658.5,265.9 662.9,256.8 667.3,251 671.7,248.6 676.1,249.4 680.4,252.6 684.8,258.3 689.2,266.5 693.6,277.2 698,290.4 702.3,306.1 706.7,324.3 711.1,344.9 715.5,368.1 719.9,393.8 724.2,419.9 728.6,446.1 733,471.3 737.4,494.6 741.7,516.9 746.1,538.5 750.5,559.5 754.9,580.2 759.3,600.9 763.6,621.6 768,642 772.4,662.1 776.8,682.1 781.2,701.9 785.5,721.7 789.9,741.3 794.3,760.8 798.7,780.2 803.1,799.5 807.4,818.9 811.8,838.4 816.2,857.9 820.6,877.2 825,896.5 829.3,915.5 833.7,934.8 838.1,954.2 842.5,973.2 846.8,991.2 851.2,1007.7 855.6,1022.8 860,1037 864.4,1050.6 868.7,1063.6 873.1,1076.3 877.5,1088.4 881.9,1100.1 886.3,1111.3 890.6,1122 895,1132.5 899.4,1142.7 903.8,1152.4 908.2,1161.5 912.5,1169.8 916.9,1177.6 921.3,1185.1 925.7,1192.3 930,1199.1 934.4,1205.5 938.8,1211.7 943.2,1217.5 947.6,1223 951.9,1228.2 956.3,1233.4 960.7,1238.3 965.1,1243 969.5,1247.5 973.8,1251.7 978.2,1255.7 982.6,1259.3 987,1262.7 991.4,1265.9 995.7,1269.1 1000.1,1272 1004.5,1274.8 1008.9,1277.2 1013.2,1279.4 1017.6,1281.1 1022,1282.7 1026.4,1284.2 1030.8,1285.6 1035.1,1286.9 1039.5,1288.1 1043.9,1289.1 1048.3,1289.8 1052.7,1290.2 1057,1290.3 1061.4,1290.2 1065.8,1289.8 1070.2,1289.3 1074.6,1288.6 1078.9,1287.8 1083.3,1286.8 1087.7,1285.8 1092.1,1284.8 1096.4,1283.5 1100.8,1281.6 1105.2,1279.3 1109.6,1276.5 1114,1273.6 1118.3,1270.7 1122.7,1267.8 1127.1,1265.1 1131.5,1262.5 1135.9,1259.8 1140.2,1257 1144.6,1254.3 1149,1251.6 1153.4,1249.2 1157.8,1246.9 1162.1,1245 1166.5,1243.1 1170.9,1241.2 1175.3,1239.4 1179.6,1237.8 1184,1236.3 1188.4,1235.1 1192.8,1234.3 1197.2,1233.6 1201.5,1233 1205.9,1232.4 1210.3,1231.9 1214.7,1231.5 1219.1,1231.2 1223.4,1231 1227.8,1231 1232.2,1231.1 1236.6,1231.5 1241,1232.1 1245.3,1232.8 1249.7,1233.6 1254.1,1234.5 1258.5,1235.5 1262.9,1236.5 1267.2,1237.6 1271.6,1239 1276,1240.7 1280.4,1242.5 1284.7,1244.6 1289.1,1246.9 1293.5,1249.5 1297.9,1253 1302.3,1257.6 1306.6,1262.5 1311,1267 1315.4,1271 1319.8,1274.9 1324.2,1278.7 1328.5,1282.8 1332.9,1286.9 1337.3,1291.2 1341.7,1295.5 1346.1,1299.8 1350.4,1304 1354.8,1308.1 1359.2,1312.1 1363.6,1315.9 1367.9,1319.5 1372.3,1323.1 1376.7,1326.6 1381.1,1330 1385.5,1333.5 1389.8,1336.9 1394.2,1340.4 1398.6,1344 1403,1347.7 1407.4,1351.3 1411.7,1355 1416.1,1358.5 1420.5,1361.9 1424.9,1365.1 1429.3,1368.1 1433.6,1371 1438,1373.6 1442.4,1376.2 1446.8,1378.7 1451.1,1381.3 1455.5,1383.9 1459.9,1386.6 1464.3,1389.4 1468.7,1392.3 1473,1395.2 1477.4,1398.2 1481.8,1401.1 1486.2,1403.9 1490.6,1406.6 1494.9,1409.1 1499.3,1411.7 1503.7,1414.2 1508.1,1416.7 1512.5,1419.1 1516.8,1421.2 1521.2,1423.1 1525.6,1424.6 1530,1425.8 1534.3,1426.8 1538.7,1427.6 1543.1,1428.3 1547.5,1429 1551.9,1429.8 1556.2,1430.7 1560.6,1431.8 1565,1433.3 1569.4,1435.1 1573.8,1437.2 1578.1,1439.2 1582.5,1441.2 1586.9,1443 1591.3,1444.4 1595.7,1445.4 1600,1446.3 1604.4,1447 1608.8,1447.7 1613.2,1448.3 1617.5,1448.8 1621.9,1449.4 1626.3,1449.9 1630.7,1450.4 1635.1,1450.9 1639.4,1451.3 1643.8,1451.7 1648.2,1452.1 1652.6,1452.5 1657,1452.9 1661.3,1453.4 1665.7,1454 1670.1,1454.6 1674.5,1455.2 1678.9,1455.9 1683.2,1456.6 1687.6,1457.2 1692,1457.9 1696.4,1458.6 1700.8,1459.3 1705.1,1460.1 1709.5,1460.9 1713.9,1461.6 1718.3,1462.3 1722.6,1462.9 1727,1463.4 1731.4,1463.9 1735.8,1464.3 1740.2,1464.7 1744.5,1465.1 1748.9,1465.4 1753.3,1465.8 1757.7,1466.1 1762.1,1466.4 1766.4,1466.6 1770.8,1466.9 1775.2,1467.1 1779.6,1467.3 1784,1467.5 1788.3,1467.7 1792.7,1467.9 1797.1,1468.1 1801.5,1468.3 1805.8,1468.5 1810.2,1468.8 1814.6,1469 1819,1469.3 1823.4,1469.5 1827.7,1469.8 1832.1,1470 1836.5,1470.2 1840.9,1470.4 1845.3,1470.5 1849.6,1470.7 1854,1470.8 1858.4,1471 1862.8,1471.1"/>
<polyline stroke="#2878a0" stroke-width="5.1" points="363.7,1471.7 368,1471.6 372.4,1471.4 376.8,1471 381.2,1470.6 385.6,1470.1 389.9,1469.5 394.3,1468.8 398.7,1468.1 403.1,1467.3 407.5,1466.4 411.8,1465.1 416.2,1463.4 420.6,1461.3 425,1459 429.4,1456.4 433.7,1453.8 438.1,1451 442.5,1448.2 446.9,1444.9 451.2,1441.4 455.6,1437.6 460,1433.6 464.4,1429.3 468.8,1424.9 473.1,1420.4 477.5,1415.8 481.9,1410.9 486.3,1405.6 490.7,1399.7 495,1393.1 499.4,1385.2 503.8,1375.7 508.2,1364.8 512.6,1352.2 516.9,1337.5 521.3,1321.3 525.7,1303.4 530.1,1284.2 534.5,1264.1 538.8,1242.5 543.2,1219 547.6,1193 552,1162.7 556.3,1130.5 560.7,1099.5 565.1,1058.6 569.5,1022.7 573.9,990.5 578.2,939.8 582.6,890.8 587,843 591.4,797.3 595.8,753 600.1,707.8 604.5,661.9 608.9,617.4 613.3,573.9 617.7,533.6 622,496.5 626.4,461.9 630.8,429.8 635.2,401.3 639.5,376.1 643.9,354.2 648.3,335.5 652.7,320.1 657.1,308 661.4,299.2 665.8,293.6 670.2,291.3 674.6,292.2 679,295.5 683.3,301.3 687.7,309.4 692.1,319.9 696.5,332.9 700.9,348.2 705.2,365.9 709.6,386 714,408.5 718.4,433.5 722.7,458.8 727.1,484.2 731.5,508.6 735.9,531.3 740.3,552.9 744.6,573.8 749,594.2 753.4,614.3 757.8,634.4 762.2,654.4 766.5,674.1 770.9,693.6 775.3,712.9 779.7,732.2 784.1,751.3 788.4,770.2 792.8,789 797.2,807.8 801.6,826.5 805.9,845.3 810.3,864.1 814.7,882.8 819.1,901.5 823.5,920.1 827.8,938.4 832.2,957 836.6,975.7 841,994 845.4,1011.3 849.7,1027.2 854.1,1041.8 858.5,1055.6 862.9,1068.6 867.3,1081.2 871.6,1093.4 876,1105.1 880.4,1116.4 884.8,1127.1 889.1,1137.5 893.5,1147.6 897.9,1157.4 902.3,1166.7 906.7,1175.4 911,1183.5 915.4,1191 919.8,1198.2 924.2,1205.1 928.6,1211.7 932.9,1217.9 937.3,1223.8 941.7,1229.4 946.1,1234.7 950.5,1239.8 954.8,1244.7 959.2,1249.4 963.6,1254 968,1258.3 972.4,1262.4 976.7,1266.2 981.1,1269.7 985.5,1272.9 989.9,1276.1 994.2,1279.1 998.6,1282 1003,1284.6 1007.4,1287 1011.8,1289.1 1016.1,1290.8 1020.5,1292.3 1024.9,1293.7 1029.3,1295.1 1033.7,1296.4 1038,1297.6 1042.4,1298.6 1046.8,1299.3 1051.2,1299.7 1055.6,1299.9 1059.9,1299.7 1064.3,1299.3 1068.7,1298.8 1073.1,1298.2 1077.4,1297.4 1081.8,1296.5 1086.2,1295.5 1090.6,1294.5 1095,1293.2 1099.3,1291.4 1103.7,1289.2 1108.1,1286.6 1112.5,1283.8 1116.9,1281 1121.2,1278.2 1125.6,1275.7 1130,1273.2 1134.4,1270.6 1138.8,1267.9 1143.1,1265.3 1147.5,1262.8 1151.9,1260.4 1156.3,1258.3 1160.6,1256.4 1165,1254.5 1169.4,1252.7 1173.8,1251 1178.2,1249.5 1182.5,1248.1 1186.9,1246.9 1191.3,1246.1 1195.7,1245.4 1200.1,1244.8 1204.4,1244.2 1208.8,1243.7 1213.2,1243.3 1217.6,1243 1222,1242.8 1226.3,1242.7 1230.7,1242.8 1235.1,1243.1 1239.5,1243.6 1243.8,1244.2 1248.2,1244.9 1252.6,1245.7 1257,1246.5 1261.4,1247.3 1265.7,1248.4 1270.1,1249.7 1274.5,1251.1 1278.9,1252.8 1283.3,1254.8 1287.6,1256.9 1292,1259.3 1296.4,1262.6 1300.8,1266.9 1305.2,1271.6 1309.5,1275.8 1313.9,1279.5 1318.3,1283.2 1322.7,1286.8 1327,1290.6 1331.4,1294.6 1335.8,1298.6 1340.2,1302.7 1344.6,1306.7 1348.9,1310.7 1353.3,1314.6 1357.7,1318.4 1362.1,1322 1366.5,1325.5 1370.8,1328.8 1375.2,1332.2 1379.6,1335.4 1384,1338.7 1388.4,1342 1392.7,1345.3 1397.1,1348.8 1401.5,1352.2 1405.9,1355.7 1410.3,1359.2 1414.6,1362.6 1419,1365.9 1423.4,1368.9 1427.8,1371.8 1432.1,1374.5 1436.5,1377.1 1440.9,1379.5 1445.3,1381.9 1449.7,1384.4 1454,1386.9 1458.4,1389.4 1462.8,1392.1 1467.2,1394.9 1471.6,1397.8 1475.9,1400.6 1480.3,1403.4 1484.7,1406.1 1489.1,1408.7 1493.5,1411.1 1497.8,1413.6 1502.2,1416 1506.6,1418.4 1511,1420.7 1515.3,1422.8 1519.7,1424.6 1524.1,1426.1 1528.5,1427.2 1532.9,1428.1 1537.2,1428.9 1541.6,1429.6 1546,1430.3 1550.4,1431 1554.8,1431.9 1559.1,1432.9 1563.5,1434.4 1567.9,1436.2 1572.3,1438.1 1576.7,1440.2 1581,1442.1 1585.4,1443.8 1589.8,1445.2 1594.2,1446.2 1598.5,1447 1602.9,1447.7 1607.3,1448.3 1611.7,1448.9 1616.1,1449.5 1620.4,1450 1624.8,1450.5 1629.2,1451 1633.6,1451.4 1638,1451.8 1642.3,1452.2 1646.7,1452.6 1651.1,1453 1655.5,1453.4 1659.9,1453.9 1664.2,1454.5 1668.6,1455.1 1673,1455.7 1677.4,1456.3 1681.7,1457 1686.1,1457.6 1690.5,1458.3 1694.9,1458.9 1699.3,1459.7 1703.6,1460.4 1708,1461.1 1712.4,1461.9 1716.8,1462.5 1721.2,1463.1 1725.5,1463.6 1729.9,1464.1 1734.3,1464.5 1738.7,1464.9 1743.1,1465.3 1747.4,1465.6 1751.8,1465.9 1756.2,1466.2 1760.6,1466.5 1764.9,1466.8 1769.3,1467 1773.7,1467.2 1778.1,1467.4 1782.5,1467.6 1786.8,1467.8 1791.2,1468 1795.6,1468.2 1800,1468.4 1804.4,1468.6 1808.7,1468.9 1813.1,1469.1 1817.5,1469.4 1821.9,1469.6 1826.3,1469.9 1830.6,1470.1 1835,1470.2 1839.4,1470.4 1843.8,1470.6 1848.2,1470.7 1852.5,1470.9 1856.9,1471 1861.3,1471.1"/>
</g>
<g stroke="#000" stroke-width="5.4" fill="none" stroke-linecap="butt">
<path d="M364.5,61.7 V1503"/>
<path d="M336,1474 H1900.5"/>
<path d="M351,1372.7 H364.5" stroke-width="4.2"/>
<path d="M336,1272 H364.5"/>
<path d="M351,1171.4 H364.5" stroke-width="4.2"/>
<path d="M336,1070.8 H364.5"/>
<path d="M351,970.1 H364.5" stroke-width="4.2"/>
<path d="M336,869.5 H364.5"/>
<path d="M351,768.9 H364.5" stroke-width="4.2"/>
<path d="M336,668.2 H364.5"/>
<path d="M351,567.6 H364.5" stroke-width="4.2"/>
<path d="M336,466.9 H364.5"/>
<path d="M351,366.3 H364.5" stroke-width="4.2"/>
<path d="M336,265.7 H364.5"/>
<path d="M351,165 H364.5" stroke-width="4.2"/>
<path d="M336,64.4 H364.5"/>
<path d="M584,1473.3 V1503"/>
<path d="M803,1473.3 V1488.5" stroke-width="4.2"/>
<path d="M1021.9,1473.3 V1503"/>
<path d="M1240.8,1473.3 V1488.5" stroke-width="4.2"/>
<path d="M1459.8,1473.3 V1503"/>
<path d="M1678.8,1473.3 V1488.5" stroke-width="4.2"/>
<path d="M1897.7,1473.3 V1503"/>
</g>
<text class="tky" x="315.5" y="1489.8">0</text>
<text class="tky" x="315.5" y="1288.5">100</text>
<text class="tky" x="315.5" y="1087.3">200</text>
<text class="tky" x="315.5" y="886">300</text>
<text class="tky" x="315.5" y="684.7">400</text>
<text class="tky" x="315.5" y="483.4">500</text>
<text class="tky" x="315.5" y="282.2">600</text>
<text class="tky" x="315.5" y="80.9">700</text>
<text class="tk" x="580.5" y="1573.5">650</text>
<text class="tk" x="1018.4" y="1573.5">700</text>
<text class="tk" x="1456.3" y="1573.5">750</text>
<text class="tk" x="1894.2" y="1573.5">800</text>
<text class="ax" x="1239" y="1697" text-anchor="middle">Wavelength [nm]</text>
<text class="ax" transform="translate(110.5,815.5) rotate(-90)" text-anchor="middle">Intensity of emission [a.u.]</text>
<g clip-path="url(#ic)" fill="none" stroke-linejoin="round" stroke-linecap="butt">
<polyline stroke="#008000" stroke-width="8.2" points="1126,2077.2 1168.2,1809.5 1210.5,1562.1 1252.8,1335.2 1295,1129 1337.2,943.9 1379.5,779.9 1421.8,637.5 1464,516.6 1506.2,417.6 1548.5,341.3 1590.8,288.7 1633,265.7 1675.2,266.8 1717.5,296.1 1759.8,355.3 1802,436 1844.2,536.4 1886.5,655.3 1928.8,792.4 1971,947.6 2013.2,1120.6 2055.5,1311.1 2097.8,1518.7 2140,1743.1 2182.2,1984 2224.5,2241.3"/>
<polyline stroke="#ff1a1a" stroke-width="9.2" points="1126,2049.3 1168.2,1784.5 1210.5,1537.5 1252.8,1308.8 1295,1098.9 1337.2,908.2 1379.5,737.5 1421.8,587.3 1464,458.3 1506.2,351.2 1548.5,268.3 1590.8,212.6 1633,199.4 1675.2,221.3 1717.5,258 1759.8,327.9 1802,416.6 1844.2,522.1 1886.5,642.1 1928.8,775.1 1971,921.1 2013.2,1080.2 2055.5,1252.3 2097.8,1437 2140,1633.9 2182.2,1842.7 2224.5,2063.2"/>
<polyline stroke="#e9604a" stroke-width="9.2" points="1126,2045 1168.2,1784 1210.5,1542.2 1252.8,1319.8 1295,1117 1337.2,934.2 1379.5,771.8 1421.8,630 1464,508.9 1506.2,409 1548.5,331.3 1590.8,277.5 1633,253.6 1675.2,256.5 1717.5,287.3 1759.8,346.7 1802,425.2 1844.2,520.9 1886.5,632.4 1928.8,759.5 1971,902.6 2013.2,1061.2 2055.5,1235.2 2097.8,1424.1 2140,1627.6 2182.2,1845.6 2224.5,2077.7"/>
<polyline stroke="#008b8b" stroke-width="9.2" points="1126,2306.8 1168.2,1944.3 1210.5,1619.8 1252.8,1332.4 1295,1081 1337.2,864.7 1379.5,682.4 1421.8,533.4 1464,416.6 1506.2,329.1 1548.5,266.2 1590.8,224.3 1633,210.4 1675.2,212.6 1717.5,237.5 1759.8,284 1802,352.5 1844.2,442.3 1886.5,552.3 1928.8,681.9 1971,831.1 2013.2,1000.1 2055.5,1189.1 2097.8,1397.8 2140,1626.2 2182.2,1874.2 2224.5,2141.7"/>
<polyline stroke="#8b0000" stroke-width="9.2" points="1126,2236.2 1168.2,1880.9 1210.5,1561.3 1252.8,1276.9 1295,1027 1337.2,810.7 1379.5,627.8 1421.8,478.9 1464,363.9 1506.2,278.7 1548.5,214.7 1590.8,167.6 1633,146.2 1675.2,150.4 1717.5,183.4 1759.8,234.4 1802,300.6 1844.2,381.1 1886.5,478.2 1928.8,594 1971,729.3 2013.2,883.5 2055.5,1055.4 2097.8,1244.7 2140,1451.1 2182.2,1674.7 2224.5,1915.3"/>
<polyline stroke="#008000" stroke-width="8.2" points="1126,2514.2 1168.2,2148.9 1210.5,1818.1 1252.8,1521.6 1295,1259.2 1337.2,1030.5 1379.5,835.4 1421.8,673.4 1464,544.3 1506.2,447.4 1548.5,382.3 1590.8,348.1 1633,341.5 1675.2,357.6 1717.5,397.9 1759.8,462.3 1802,549.1 1844.2,654.4 1886.5,774.7 1928.8,908.8 1971,1056.8 2013.2,1219.3 2055.5,1396.5 2097.8,1588.1 2140,1793.7 2182.2,2013.1 2224.5,2246.1"/>
<polyline stroke="#ff00ff" stroke-width="9.2" points="1126,2348.1 1168.2,2039.7 1210.5,1755.5 1252.8,1495.7 1295,1260.8 1337.2,1050.8 1379.5,866.3 1421.8,707.5 1464,575.1 1506.2,469.6 1548.5,391.8 1590.8,342.9 1633,325.4 1675.2,338.5 1717.5,370.8 1759.8,423.2 1802,498.5 1844.2,595.9 1886.5,713.7 1928.8,851 1971,1007.9 2013.2,1184.5 2055.5,1380.8 2097.8,1596.6 2140,1832 2182.2,2086.7 2224.5,2360.8"/>
<polyline stroke="#000080" stroke-width="9.2" points="1126,2212.9 1168.2,1917.6 1210.5,1647.4 1252.8,1402.2 1295,1181.9 1337.2,986.7 1379.5,816.4 1421.8,671.8 1464,553.1 1506.2,459.3 1548.5,388.1 1590.8,338.5 1633,307.8 1675.2,305.4 1717.5,323.9 1759.8,373.2 1802,447.9 1844.2,545.4 1886.5,660.9 1928.8,792 1971,939.2 2013.2,1103.4 2055.5,1284.9 2097.8,1483.3 2140,1698.4 2182.2,1929.9 2224.5,2177.7"/>
<polyline stroke="#8b008b" stroke-width="8.2" points="1126,2112 1168.2,1856.9 1210.5,1620.4 1252.8,1402.5 1295,1203.7 1337.2,1024.2 1379.5,864.3 1421.8,723.4 1464,601.5 1506.2,500.6 1548.5,424.8 1590.8,376.6 1633,360.5 1675.2,364.9 1717.5,392 1759.8,446.6 1802,519.3 1844.2,610.7 1886.5,723 1928.8,857.1 1971,1012.8 2013.2,1189.7 2055.5,1387.7 2097.8,1606.7 2140,1846.8 2182.2,2107.8 2224.5,2389.9"/>
<polyline stroke="#f03246" stroke-width="8.7" points="1126,2627.5 1168.2,2269.7 1210.5,1946.5 1252.8,1657.5 1295,1402.2 1337.2,1180 1379.5,989.7 1421.8,830.5 1464,702 1506.2,604.4 1548.5,538.1 1590.8,501.3 1633,488.1 1675.2,493 1717.5,523.7 1759.8,574.6 1802,646.3 1844.2,738.1 1886.5,849.3 1928.8,979.2 1971,1127.5 2013.2,1294.1 2055.5,1479 2097.8,1682.1 2140,1903.2 2182.2,2142.3 2224.5,2399.2"/>
<polyline stroke="#800080" stroke-width="7.7" points="1126,2408.1 1168.2,2123.9 1210.5,1862.7 1252.8,1624.5 1295,1409.4 1337.2,1217.6 1379.5,1049 1421.8,902.7 1464,778.1 1506.2,677.3 1548.5,604.9 1590.8,562.7 1633,548 1675.2,552.9 1717.5,585 1759.8,637.5 1802,710.4 1844.2,801.9 1886.5,909.7 1928.8,1032.2 1971,1169.5 2013.2,1321.8 2055.5,1489 2097.8,1670.9 2140,1867.1 2182.2,2077.5 2224.5,2301.9"/>
<polyline stroke="#800000" stroke-width="6.2" points="1126,2404.6 1168.2,2118.5 1210.5,1856 1252.8,1617.5 1295,1403.4 1337.2,1214 1379.5,1050.1 1421.8,912.6 1464,802.1 1506.2,719.2 1548.5,665.5 1590.8,628.6 1633,630.1 1675.2,651.6 1717.5,686.2 1759.8,734.1 1802,797.6 1844.2,880.6 1886.5,984.4 1928.8,1108.8 1971,1253.8 2013.2,1419.8 2055.5,1607.3 2097.8,1816.7 2140,2048.4 2182.2,2302.7 2224.5,2580"/>
<polyline stroke="#00e000" stroke-width="11.2" points="1126,2774.8 1168.2,2421.4 1210.5,2100.4 1252.8,1811.8 1295,1555.6 1337.2,1331.5 1379.5,1139.5 1421.8,979.5 1464,851.6 1506.2,756.6 1548.5,694.8 1590.8,654.4 1633,650.2 1675.2,674 1717.5,708.5 1759.8,758.6 1802,829.5 1844.2,930.5 1886.5,1065.1 1928.8,1232.9 1971,1434.2 2013.2,1670.6 2055.5,1943.4 2097.8,2254 2140,2603.6 2182.2,2993.4 2224.5,3424.4"/>
<polyline stroke="#808000" stroke-width="8.2" points="1126,2835 1168.2,2440.6 1210.5,2090.8 1252.8,1784.1 1295,1518.9 1337.2,1294.2 1379.5,1109.6 1421.8,963.9 1464,853.8 1506.2,773.3 1548.5,717.1 1590.8,682.2 1633,661.3 1675.2,665.5 1717.5,703.2 1759.8,746.6 1802,813.8 1844.2,909.3 1886.5,1035.7 1928.8,1192.2 1971,1378.8 2013.2,1596.3 2055.5,1845.5 2097.8,2126.9 2140,2441.2 2182.2,2789 2224.5,3170.8"/>
<polyline stroke="#0000d0" stroke-width="8.7" points="1126,2753.4 1168.2,2411.9 1210.5,2101.4 1252.8,1822 1295,1573.6 1337.2,1356.3 1379.5,1170.4 1421.8,1015.9 1464,893 1506.2,802.2 1548.5,743.6 1590.8,701.9 1633,701.9 1675.2,722.7 1717.5,754.6 1759.8,808.2 1802,886.2 1844.2,990.5 1886.5,1121.3 1928.8,1279.5 1971,1465.8 2013.2,1681.1 2055.5,1926.2 2097.8,2201.7 2140,2508.4 2182.2,2846.7 2224.5,3217.3"/>
<polyline stroke="#000080" stroke-width="9.2" points="1126,2441.6 1168.2,2187.9 1210.5,1954.3 1252.8,1740.8 1295,1547.6 1337.2,1375 1379.5,1223 1421.8,1091.6 1464,981 1506.2,892.1 1548.5,826.5 1590.8,785.4 1633,765.9 1675.2,772.9 1717.5,798 1759.8,842.1 1802,918.7 1844.2,1031.2 1886.5,1181.7 1928.8,1372.6 1971,1606.4 2013.2,1885.5 2055.5,2211.8 2097.8,2587.4 2140,3014.2 2182.2,3493.7 2224.5,4027.8"/>
<polyline stroke="#00e5ee" stroke-width="12.2" points="1126,2367.1 1168.2,2141.2 1210.5,1933.2 1252.8,1743.3 1295,1571.6 1337.2,1418.1 1379.5,1283 1421.8,1166.5 1464,1068.8 1506.2,989.5 1548.5,927.3 1590.8,882.1 1633,867.4 1675.2,868.9 1717.5,889.4 1759.8,930.8 1802,1001.9 1844.2,1106.5 1886.5,1247.5 1928.8,1427.7 1971,1649.3 2013.2,1914.8 2055.5,2226 2097.8,2585 2140,2993.5 2182.2,3453.1 2224.5,3965.4"/>
<polyline stroke="#2878a0" stroke-width="6.2" points="1126,2768.2 1168.2,2451.8 1210.5,2164.3 1252.8,1905.4 1295,1674.9 1337.2,1472.3 1379.5,1297.4 1421.8,1149.8 1464,1028.6 1506.2,933.4 1548.5,863.5 1590.8,818.3 1633,798.3 1675.2,799.3 1717.5,823.5 1759.8,883.1 1802,966.3 1844.2,1071.5 1886.5,1197.5 1928.8,1344 1971,1511.4 2013.2,1699.4 2055.5,1907.6 2097.8,2135.9 2140,2383.9 2182.2,2651.4 2224.5,2938.2"/>
</g>
<g fill="none">
<path d="M1033,1051.5 H2142.8" stroke="#8a8a8a" stroke-width="4.2"/>
<path d="M1046.8,98.2 V1059" stroke="#4a4a4a" stroke-width="3.2"/>
<g stroke="#4a4a4a" stroke-width="2.9">
<path d="M1039.5,978.8 H1047" stroke-width="2.5"/>
<path d="M1032,905.5 H1047"/>
<path d="M1039.5,832.2 H1047" stroke-width="2.5"/>
<path d="M1032,759 H1047"/>
<path d="M1039.5,685.8 H1047" stroke-width="2.5"/>
<path d="M1032,612.5 H1047"/>
<path d="M1039.5,539.2 H1047" stroke-width="2.5"/>
<path d="M1032,466 H1047"/>
<path d="M1039.5,392.8 H1047" stroke-width="2.5"/>
<path d="M1032,319.5 H1047"/>
<path d="M1039.5,246.2 H1047" stroke-width="2.5"/>
<path d="M1032,173 H1047"/>
<path d="M1039.5,99.8 H1047" stroke-width="2.5"/>
<path d="M1131.5,1052 V1066.5"/>
<path d="M1216,1052 V1059.5" stroke-width="2.5"/>
<path d="M1295,1052 V1066.5"/>
<path d="M1379.5,1052 V1059.5" stroke-width="2.5"/>
<path d="M1464,1052 V1066.5"/>
<path d="M1548.5,1052 V1059.5" stroke-width="2.5"/>
<path d="M1633,1052 V1066.5"/>
<path d="M1717.5,1052 V1059.5" stroke-width="2.5"/>
<path d="M1802,1052 V1066.5"/>
<path d="M1886.5,1052 V1059.5" stroke-width="2.5"/>
<path d="M1971,1052 V1066.5"/>
<path d="M2055.5,1052 V1059.5" stroke-width="2.5"/>
<path d="M2140.8,1052 V1066.5" stroke="#777" stroke-width="4"/>
</g></g>
<text class="it" x="1017" y="1064" text-anchor="end">570</text>
<text class="it" x="1017" y="917.5" text-anchor="end">580</text>
<text class="it" x="1017" y="771" text-anchor="end">590</text>
<text class="it" x="1017" y="624.5" text-anchor="end">600</text>
<text class="it" x="1017" y="478" text-anchor="end">610</text>
<text class="it" x="1017" y="331.5" text-anchor="end">620</text>
<text class="it" x="1017" y="185" text-anchor="end">630</text>
<text class="it" x="1129.5" y="1116.5" text-anchor="middle">654</text>
<text class="it" x="1295" y="1116.5" text-anchor="middle">656</text>
<text class="it" x="1464" y="1116.5" text-anchor="middle">658</text>
<text class="it" x="1633" y="1116.5" text-anchor="middle">660</text>
<text class="it" x="1802" y="1116.5" text-anchor="middle">662</text>
<text class="it" x="1971" y="1116.5" text-anchor="middle">664</text>
<text class="it" x="2140" y="1116.5" text-anchor="middle">666</text>
<g class="ld">
<path d="M1382.4,89.7 L1608.4,207.8"/>
<path d="M1713.8,85.4 L1653.3,148"/>
<path d="M1412.9,173.7 L1630,305.9"/>
<path d="M1305,272.4 L1601.7,370.7"/>
<path d="M1422.7,370.8 L1615,492.1"/>
<path d="M1323.5,514.7 L1618.4,548.6"/>
<path d="M1283.2,636.6 L1593.4,629.1"/>
<path d="M1283.2,710.7 L1581.8,657"/>
<path d="M1308.3,757.4 L1598.4,681.3"/>
<path d="M1256,905.1 L1631,799.6"/>
<path d="M1637.6,935.8 L1650.7,872.6"/>
<path d="M1987.3,175.8 L1698.6,221.4"/>
<path d="M1983,247.3 L1661.5,254"/>
<path d="M1983,324 L1663.7,268.2"/>
<path d="M1985.9,377.1 L1698.6,357.6"/>
<path d="M2071.7,589.2 L1744.2,452"/>
<path d="M2076.5,812.1 L1700,743.5"/>
<path d="M2074.6,938.5 L1729.1,804"/>
</g>
<text class="lb" x="1259" y="82.1">H<tspan font-size="27" dy="6">2</tspan><tspan dy="-6">O</tspan><tspan font-size="27" dy="6">2</tspan></text>
<text class="lb" x="1109.7" y="180.2">H<tspan font-size="29.5" dy="17">2</tspan><tspan dy="-17">O</tspan><tspan font-size="29.5" dy="17">2</tspan><tspan dy="-17">+Cr</tspan><tspan font-size="29.5" dy="17">2</tspan><tspan dx="2.5" dy="-17">O</tspan><tspan font-size="29.5" dx="1.5" dy="17">7</tspan><tspan font-size="29.5" dx="-16.4" dy="-36" letter-spacing="1.5">2-</tspan></text>
<text class="lb" x="1071.6" y="286.3">H<tspan font-size="29.5" dy="17">2</tspan><tspan dy="-17">O</tspan><tspan font-size="29.5" dy="17">2</tspan><tspan dy="-17">+AcA</tspan></text>
<text class="lb" x="1069.4" y="388.3">H<tspan font-size="29.5" dy="17">2</tspan><tspan dy="-17">O</tspan><tspan font-size="29.5" dy="17">2</tspan><tspan dy="-17">+MnO</tspan><tspan font-size="29.5" dy="17">4</tspan><tspan font-size="29.5" dx="-13" dy="-42">-</tspan><tspan dx="6" dy="25">+LA</tspan></text>
<text class="lb" x="1069.4" y="530.6">H<tspan font-size="29.5" dy="17">2</tspan><tspan dy="-17">O</tspan><tspan font-size="29.5" dy="17">2</tspan><tspan dy="-17">+MnO</tspan><tspan font-size="29.5" dy="17">4</tspan><tspan font-size="29.5" dx="-13" dy="-42">-</tspan></text>
<text class="lb" x="1071.6" y="653.4">H<tspan font-size="29.5" dy="17">2</tspan><tspan dy="-17">O</tspan><tspan font-size="29.5" dy="17">2</tspan><tspan dy="-17">+LP</tspan></text>
<text class="lb" x="1071.6" y="726">H<tspan font-size="29.5" dy="17">2</tspan><tspan dy="-17">O</tspan><tspan font-size="29.5" dy="17">2</tspan><tspan dy="-17">+AA</tspan></text>
<text class="lb" x="1070.5" y="787">H<tspan font-size="29.5" dy="17">2</tspan><tspan dy="-17">O</tspan><tspan font-size="29.5" dy="17">2</tspan><tspan dy="-17">+PSB</tspan></text>
<text class="lb lb2" x="1070.5" y="891">H<tspan font-size="26" dy="8">2</tspan><tspan dy="-8">O</tspan><tspan font-size="26" dy="8">2</tspan><tspan dy="-8">+LP</tspan></text>
<text class="lb lb2" x="1099" y="941.8">+NaCl</text>
<text class="lb lb2" x="1545.8" y="983.8">H<tspan font-size="26" dy="8">2</tspan><tspan dy="-8">O</tspan><tspan font-size="26" dy="8">2</tspan><tspan dy="-8">+Glu</tspan></text>
<text class="lb lb2" x="1583" y="1032.8">+NaCl</text>
<text class="lb" x="1721.2" y="86.5">H<tspan font-size="29.5" dy="17">2</tspan><tspan dy="-17">O</tspan><tspan font-size="29.5" dy="17">2</tspan><tspan dy="-17">+LA</tspan></text>
<text class="lb" x="1998.3" y="187">H<tspan font-size="29.5" dy="17">2</tspan><tspan dy="-17">O</tspan><tspan font-size="29.5" dy="17">2</tspan><tspan dy="-17">+I</tspan><tspan font-size="29.5" dy="17">2</tspan><tspan dy="-17">+LA</tspan></text>
<text class="lb" x="1998.3" y="253.5">H<tspan font-size="29.5" dy="17">2</tspan><tspan dy="-17">O</tspan><tspan font-size="29.5" dy="17">2</tspan><tspan dy="-17">+Cr</tspan><tspan font-size="29.5" dy="17">2</tspan><tspan dx="2.5" dy="-17">O</tspan><tspan font-size="29.5" dx="1.5" dy="17">7</tspan><tspan font-size="29.5" dx="-16.4" dy="-36" letter-spacing="1.5">2-</tspan><tspan dx="1.5" dy="19">+LA</tspan></text>
<text class="lb" x="1997.2" y="333">H<tspan font-size="29.5" dy="17">2</tspan><tspan dy="-17">O</tspan><tspan font-size="29.5" dy="17">2</tspan><tspan dy="-17">+I</tspan><tspan font-size="29.5" dy="17">2</tspan></text>
<text class="lb" x="1998.3" y="393">H<tspan font-size="29.5" dy="17">2</tspan><tspan dy="-17">O</tspan><tspan font-size="29.5" dy="17">2</tspan><tspan dy="-17">+Glu</tspan></text>
<text class="lb" x="2075.9" y="609.9">H<tspan font-size="29.5" dy="17">2</tspan><tspan dy="-17">O</tspan><tspan font-size="29.5" dy="17">2</tspan><tspan dy="-17">+NaCl</tspan></text>
<text class="lb" x="2077.8" y="831.5">H<tspan font-size="29.5" dy="17">2</tspan><tspan dy="-17">O</tspan><tspan font-size="29.5" dy="17">2</tspan><tspan dy="-17">+AA+NaCl</tspan></text>
<text class="lb" x="2075.9" y="959.7">H<tspan font-size="29.5" dy="17">2</tspan><tspan dy="-17">O</tspan><tspan font-size="29.5" dy="17">2</tspan><tspan dy="-17">+PSB+NaCl</tspan></text>
</svg></body></html>
